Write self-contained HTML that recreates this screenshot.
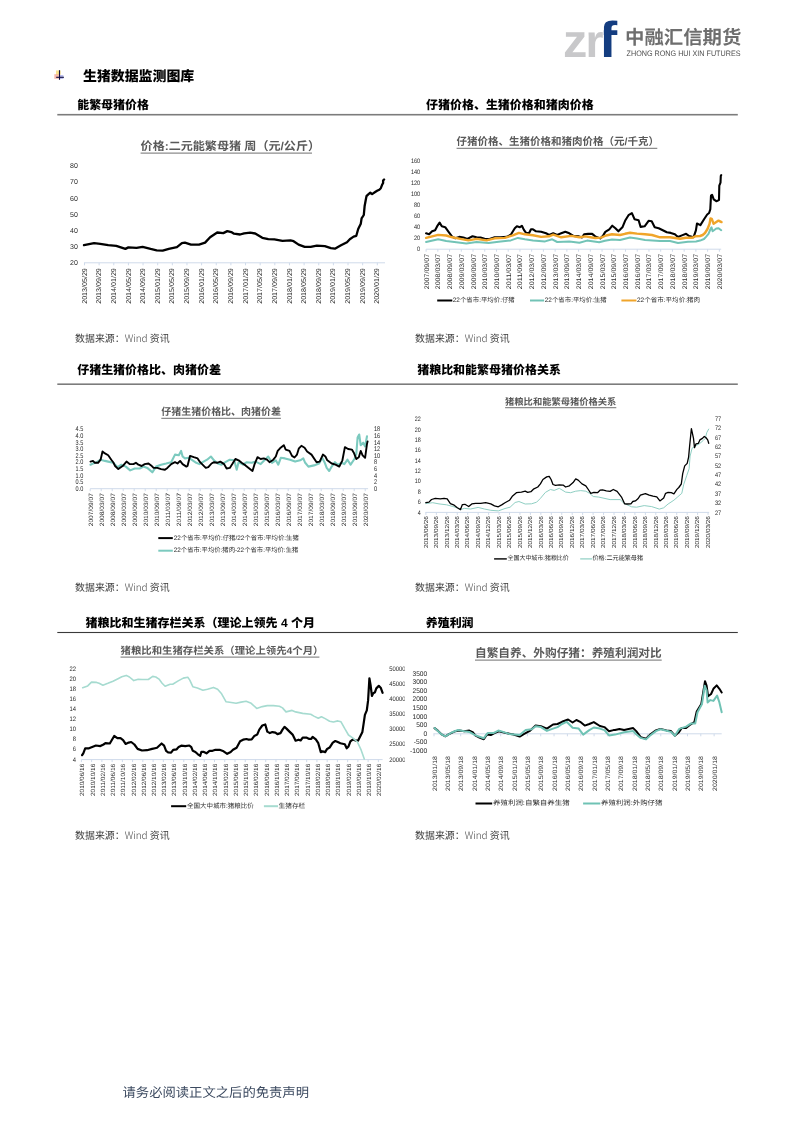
<!DOCTYPE html>
<html lang="zh-CN"><head><meta charset="utf-8"><title>生猪数据监测图库</title>
<style>
html,body{margin:0;padding:0;background:#fff;}
body{width:793px;height:1122px;overflow:hidden;position:relative;}
svg{position:absolute;left:0;top:0;display:block;}
text{dominant-baseline:central;text-rendering:geometricPrecision;}
.c{font-family:"Liberation Sans", "Noto Sans CJK SC", sans-serif;}
.l{font-family:"Liberation Sans", "Noto Sans CJK SC", sans-serif;}
.k{font-family:"Noto Sans CJK SC", "Liberation Sans", sans-serif;}
</style></head><body>
<svg width="793" height="1122" viewBox="0 0 793 1122">
<defs><clipPath id="clipf"><rect x="603.8" y="0" width="40" height="80"/></clipPath><clipPath id="clip5"><rect x="0" y="600" width="404.8" height="300"/></clipPath></defs>
<text x="562.95" y="56.7" font-size="47" font-weight="700" fill="#c8c8ca" class="l" style="dominant-baseline:alphabetic" textLength="24.3" lengthAdjust="spacingAndGlyphs">z</text>
<text x="585.45" y="56.7" font-size="46.4" font-weight="700" fill="#c8c8ca" class="l" style="dominant-baseline:alphabetic" textLength="18" lengthAdjust="spacingAndGlyphs">r</text>
<text x="598.6" y="56.6" font-size="50.5" font-weight="700" fill="#143d80" class="l" style="dominant-baseline:alphabetic" textLength="18.7" lengthAdjust="spacingAndGlyphs" clip-path="url(#clipf)">f</text>
<text x="625.00" y="38.00" font-size="19" fill="#6e6e6e" class="c" font-weight="700" textLength="116.30" lengthAdjust="spacingAndGlyphs">中融汇信期货</text>
<text x="626.60" y="53.70" font-size="7.9" fill="#4e4e4e" class="l" textLength="113.90" lengthAdjust="spacingAndGlyphs">ZHONG RONG HUI XIN FUTURES</text>
<rect x="56" y="70.5" width="4.6" height="4.2" fill="#f6d55c" opacity="0.7"/>
<rect x="54.3" y="74.2" width="4.5" height="4.6" fill="#ef8a7a" opacity="0.6"/>
<rect x="59.6" y="75" width="3.8" height="4" fill="#8a8ee0" opacity="0.55"/>
<line x1="59.5" y1="70.2" x2="59.5" y2="79.8" stroke="#101040" stroke-width="1.1"/>
<line x1="56.2" y1="77.3" x2="63.9" y2="77.3" stroke="#101040" stroke-width="1.1"/>
<text x="82.90" y="75.80" font-size="14" fill="#000" class="c" font-weight="900" textLength="111.40" lengthAdjust="spacingAndGlyphs">生猪数据监测图库</text>
<text x="77.20" y="105.00" font-size="12" fill="#000" class="c" font-weight="900" textLength="71.70" lengthAdjust="spacingAndGlyphs">能繁母猪价格</text>
<text x="426.00" y="105.00" font-size="12" fill="#000" class="c" font-weight="900" textLength="167.70" lengthAdjust="spacingAndGlyphs">仔猪价格、生猪价格和猪肉价格</text>
<rect x="57.3" y="113.9" width="680.5" height="1.6" fill="#7c7c7c"/>
<text x="77.20" y="369.90" font-size="12" fill="#000" class="c" font-weight="900" textLength="143.70" lengthAdjust="spacingAndGlyphs">仔猪生猪价格比、肉猪价差</text>
<text x="417.20" y="369.90" font-size="12" fill="#000" class="c" font-weight="900" textLength="143.70" lengthAdjust="spacingAndGlyphs">猪粮比和能繁母猪价格关系</text>
<rect x="57.3" y="383.4" width="680.5" height="1.6" fill="#7c7c7c"/>
<text x="85.50" y="622.90" font-size="12" fill="#000" class="c" font-weight="900" textLength="229.50" lengthAdjust="spacingAndGlyphs">猪粮比和生猪存栏关系（理论上领先 4 个月</text>
<text x="425.70" y="622.90" font-size="12" fill="#000" class="c" font-weight="900" textLength="47.90" lengthAdjust="spacingAndGlyphs">养殖利润</text>
<rect x="57.3" y="631.95" width="680.5" height="1.1" fill="#3a3a3a"/>
<text x="140.60" y="146.60" font-size="11.5" fill="#595959" class="c" font-weight="700" textLength="179.40" lengthAdjust="spacingAndGlyphs">价格:二元能繁母猪 周（元/公斤）</text>
<line x1="140.6" y1="153.2" x2="312" y2="153.2" stroke="#8c8c8c" stroke-width="1.2"/>
<text x="77.90" y="166.60" font-size="7" fill="#2a2a2a" class="l" text-anchor="end">80</text>
<text x="77.90" y="182.83" font-size="7" fill="#2a2a2a" class="l" text-anchor="end">70</text>
<text x="77.90" y="199.06" font-size="7" fill="#2a2a2a" class="l" text-anchor="end">60</text>
<text x="77.90" y="215.29" font-size="7" fill="#2a2a2a" class="l" text-anchor="end">50</text>
<text x="77.90" y="231.52" font-size="7" fill="#2a2a2a" class="l" text-anchor="end">40</text>
<text x="77.90" y="247.75" font-size="7" fill="#2a2a2a" class="l" text-anchor="end">30</text>
<text x="77.90" y="263.98" font-size="7" fill="#2a2a2a" class="l" text-anchor="end">20</text>
<line x1="84" y1="262.8" x2="385" y2="262.8" stroke="#cfdaea" stroke-width="1"/>
<line x1="84.50" y1="262.8" x2="84.50" y2="265.3" stroke="#cfdaea" stroke-width="1"/>
<line x1="99.14" y1="262.8" x2="99.14" y2="265.3" stroke="#cfdaea" stroke-width="1"/>
<line x1="113.78" y1="262.8" x2="113.78" y2="265.3" stroke="#cfdaea" stroke-width="1"/>
<line x1="128.42" y1="262.8" x2="128.42" y2="265.3" stroke="#cfdaea" stroke-width="1"/>
<line x1="143.06" y1="262.8" x2="143.06" y2="265.3" stroke="#cfdaea" stroke-width="1"/>
<line x1="157.70" y1="262.8" x2="157.70" y2="265.3" stroke="#cfdaea" stroke-width="1"/>
<line x1="172.34" y1="262.8" x2="172.34" y2="265.3" stroke="#cfdaea" stroke-width="1"/>
<line x1="186.98" y1="262.8" x2="186.98" y2="265.3" stroke="#cfdaea" stroke-width="1"/>
<line x1="201.62" y1="262.8" x2="201.62" y2="265.3" stroke="#cfdaea" stroke-width="1"/>
<line x1="216.26" y1="262.8" x2="216.26" y2="265.3" stroke="#cfdaea" stroke-width="1"/>
<line x1="230.90" y1="262.8" x2="230.90" y2="265.3" stroke="#cfdaea" stroke-width="1"/>
<line x1="245.54" y1="262.8" x2="245.54" y2="265.3" stroke="#cfdaea" stroke-width="1"/>
<line x1="260.18" y1="262.8" x2="260.18" y2="265.3" stroke="#cfdaea" stroke-width="1"/>
<line x1="274.82" y1="262.8" x2="274.82" y2="265.3" stroke="#cfdaea" stroke-width="1"/>
<line x1="289.46" y1="262.8" x2="289.46" y2="265.3" stroke="#cfdaea" stroke-width="1"/>
<line x1="304.10" y1="262.8" x2="304.10" y2="265.3" stroke="#cfdaea" stroke-width="1"/>
<line x1="318.74" y1="262.8" x2="318.74" y2="265.3" stroke="#cfdaea" stroke-width="1"/>
<line x1="333.38" y1="262.8" x2="333.38" y2="265.3" stroke="#cfdaea" stroke-width="1"/>
<line x1="348.02" y1="262.8" x2="348.02" y2="265.3" stroke="#cfdaea" stroke-width="1"/>
<line x1="362.66" y1="262.8" x2="362.66" y2="265.3" stroke="#cfdaea" stroke-width="1"/>
<line x1="377.30" y1="262.8" x2="377.30" y2="265.3" stroke="#cfdaea" stroke-width="1"/>
<text transform="translate(85.10,268.20) rotate(-90)" x="0" y="0" font-size="7" fill="#2a2a2a" class="l" text-anchor="end" textLength="35.6" lengthAdjust="spacingAndGlyphs">2013/05/29</text>
<text transform="translate(99.74,268.20) rotate(-90)" x="0" y="0" font-size="7" fill="#2a2a2a" class="l" text-anchor="end" textLength="35.6" lengthAdjust="spacingAndGlyphs">2013/09/29</text>
<text transform="translate(114.38,268.20) rotate(-90)" x="0" y="0" font-size="7" fill="#2a2a2a" class="l" text-anchor="end" textLength="35.6" lengthAdjust="spacingAndGlyphs">2014/01/29</text>
<text transform="translate(129.02,268.20) rotate(-90)" x="0" y="0" font-size="7" fill="#2a2a2a" class="l" text-anchor="end" textLength="35.6" lengthAdjust="spacingAndGlyphs">2014/05/29</text>
<text transform="translate(143.66,268.20) rotate(-90)" x="0" y="0" font-size="7" fill="#2a2a2a" class="l" text-anchor="end" textLength="35.6" lengthAdjust="spacingAndGlyphs">2014/09/29</text>
<text transform="translate(158.30,268.20) rotate(-90)" x="0" y="0" font-size="7" fill="#2a2a2a" class="l" text-anchor="end" textLength="35.6" lengthAdjust="spacingAndGlyphs">2015/01/29</text>
<text transform="translate(172.94,268.20) rotate(-90)" x="0" y="0" font-size="7" fill="#2a2a2a" class="l" text-anchor="end" textLength="35.6" lengthAdjust="spacingAndGlyphs">2015/05/29</text>
<text transform="translate(187.58,268.20) rotate(-90)" x="0" y="0" font-size="7" fill="#2a2a2a" class="l" text-anchor="end" textLength="35.6" lengthAdjust="spacingAndGlyphs">2015/09/29</text>
<text transform="translate(202.22,268.20) rotate(-90)" x="0" y="0" font-size="7" fill="#2a2a2a" class="l" text-anchor="end" textLength="35.6" lengthAdjust="spacingAndGlyphs">2016/01/29</text>
<text transform="translate(216.86,268.20) rotate(-90)" x="0" y="0" font-size="7" fill="#2a2a2a" class="l" text-anchor="end" textLength="35.6" lengthAdjust="spacingAndGlyphs">2016/05/29</text>
<text transform="translate(231.50,268.20) rotate(-90)" x="0" y="0" font-size="7" fill="#2a2a2a" class="l" text-anchor="end" textLength="35.6" lengthAdjust="spacingAndGlyphs">2016/09/29</text>
<text transform="translate(246.14,268.20) rotate(-90)" x="0" y="0" font-size="7" fill="#2a2a2a" class="l" text-anchor="end" textLength="35.6" lengthAdjust="spacingAndGlyphs">2017/01/29</text>
<text transform="translate(260.78,268.20) rotate(-90)" x="0" y="0" font-size="7" fill="#2a2a2a" class="l" text-anchor="end" textLength="35.6" lengthAdjust="spacingAndGlyphs">2017/05/29</text>
<text transform="translate(275.42,268.20) rotate(-90)" x="0" y="0" font-size="7" fill="#2a2a2a" class="l" text-anchor="end" textLength="35.6" lengthAdjust="spacingAndGlyphs">2017/09/29</text>
<text transform="translate(290.06,268.20) rotate(-90)" x="0" y="0" font-size="7" fill="#2a2a2a" class="l" text-anchor="end" textLength="35.6" lengthAdjust="spacingAndGlyphs">2018/01/29</text>
<text transform="translate(304.70,268.20) rotate(-90)" x="0" y="0" font-size="7" fill="#2a2a2a" class="l" text-anchor="end" textLength="35.6" lengthAdjust="spacingAndGlyphs">2018/05/29</text>
<text transform="translate(319.34,268.20) rotate(-90)" x="0" y="0" font-size="7" fill="#2a2a2a" class="l" text-anchor="end" textLength="35.6" lengthAdjust="spacingAndGlyphs">2018/09/29</text>
<text transform="translate(333.98,268.20) rotate(-90)" x="0" y="0" font-size="7" fill="#2a2a2a" class="l" text-anchor="end" textLength="35.6" lengthAdjust="spacingAndGlyphs">2019/01/29</text>
<text transform="translate(348.62,268.20) rotate(-90)" x="0" y="0" font-size="7" fill="#2a2a2a" class="l" text-anchor="end" textLength="35.6" lengthAdjust="spacingAndGlyphs">2019/05/29</text>
<text transform="translate(363.26,268.20) rotate(-90)" x="0" y="0" font-size="7" fill="#2a2a2a" class="l" text-anchor="end" textLength="35.6" lengthAdjust="spacingAndGlyphs">2019/09/29</text>
<text transform="translate(377.90,268.20) rotate(-90)" x="0" y="0" font-size="7" fill="#2a2a2a" class="l" text-anchor="end" textLength="35.6" lengthAdjust="spacingAndGlyphs">2020/01/29</text>
<polyline points="84.0,245.2 94.1,243.2 100.2,243.8 108.2,245.2 116.3,245.8 125.4,248.9 128.4,247.4 136.5,247.8 142.6,246.8 150.6,248.9 156.7,250.3 162.7,250.7 168.8,248.9 176.9,247.2 181.9,243.2 184.9,242.6 191.0,244.6 199.0,244.6 205.1,242.6 210.1,237.2 217.2,232.5 223.3,233.1 227.3,231.1 231.3,232.1 234.0,233.7 240.1,234.5 244.1,233.3 250.2,232.7 255.2,233.5 262.3,237.8 268.3,239.2 274.4,239.4 282.5,240.8 290.5,240.4 293.6,241.2 298.6,244.6 304.7,246.8 310.7,246.8 316.8,245.6 324.8,246.2 330.9,248.2 334.9,248.7 341.0,245.2 347.0,242.2 349.8,239.2 353.6,236.6 356.3,235.8 358.2,229.0 360.8,223.7 361.6,218.4 363.8,215.0 364.6,206.3 365.7,200.3 366.5,196.1 368.0,194.6 370.3,192.7 372.1,194.1 374.8,192.3 377.1,190.8 379.3,189.7 380.8,188.2 382.0,185.1 383.1,182.9 383.1,180.6 384.1,179.5" fill="none" stroke="#000" stroke-width="2.3" stroke-linejoin="round" stroke-linecap="round"/>
<text x="456.60" y="141.70" font-size="10.5" fill="#595959" class="c" font-weight="700" textLength="202.40" lengthAdjust="spacingAndGlyphs">仔猪价格、生猪价格和猪肉价格（元/千克）</text>
<line x1="456.6" y1="148.3" x2="657.3" y2="148.3" stroke="#8c8c8c" stroke-width="1.2"/>
<text x="420.20" y="161.70" font-size="6.4" fill="#2a2a2a" class="l" text-anchor="end" textLength="9.30" lengthAdjust="spacingAndGlyphs">160</text>
<text x="420.20" y="172.63" font-size="6.4" fill="#2a2a2a" class="l" text-anchor="end" textLength="9.30" lengthAdjust="spacingAndGlyphs">140</text>
<text x="420.20" y="183.56" font-size="6.4" fill="#2a2a2a" class="l" text-anchor="end" textLength="9.30" lengthAdjust="spacingAndGlyphs">120</text>
<text x="420.20" y="194.49" font-size="6.4" fill="#2a2a2a" class="l" text-anchor="end" textLength="9.30" lengthAdjust="spacingAndGlyphs">100</text>
<text x="420.20" y="205.42" font-size="6.4" fill="#2a2a2a" class="l" text-anchor="end" textLength="6.20" lengthAdjust="spacingAndGlyphs">80</text>
<text x="420.20" y="216.35" font-size="6.4" fill="#2a2a2a" class="l" text-anchor="end" textLength="6.20" lengthAdjust="spacingAndGlyphs">60</text>
<text x="420.20" y="227.28" font-size="6.4" fill="#2a2a2a" class="l" text-anchor="end" textLength="6.20" lengthAdjust="spacingAndGlyphs">40</text>
<text x="420.20" y="238.21" font-size="6.4" fill="#2a2a2a" class="l" text-anchor="end" textLength="6.20" lengthAdjust="spacingAndGlyphs">20</text>
<text x="420.20" y="249.14" font-size="6.4" fill="#2a2a2a" class="l" text-anchor="end" textLength="3.10" lengthAdjust="spacingAndGlyphs">0</text>
<line x1="426.2" y1="249.2" x2="721.2" y2="249.2" stroke="#cfdaea" stroke-width="1"/>
<line x1="426.10" y1="249.2" x2="426.10" y2="251.7" stroke="#cfdaea" stroke-width="1"/>
<line x1="437.83" y1="249.2" x2="437.83" y2="251.7" stroke="#cfdaea" stroke-width="1"/>
<line x1="449.56" y1="249.2" x2="449.56" y2="251.7" stroke="#cfdaea" stroke-width="1"/>
<line x1="461.29" y1="249.2" x2="461.29" y2="251.7" stroke="#cfdaea" stroke-width="1"/>
<line x1="473.02" y1="249.2" x2="473.02" y2="251.7" stroke="#cfdaea" stroke-width="1"/>
<line x1="484.75" y1="249.2" x2="484.75" y2="251.7" stroke="#cfdaea" stroke-width="1"/>
<line x1="496.48" y1="249.2" x2="496.48" y2="251.7" stroke="#cfdaea" stroke-width="1"/>
<line x1="508.21" y1="249.2" x2="508.21" y2="251.7" stroke="#cfdaea" stroke-width="1"/>
<line x1="519.94" y1="249.2" x2="519.94" y2="251.7" stroke="#cfdaea" stroke-width="1"/>
<line x1="531.67" y1="249.2" x2="531.67" y2="251.7" stroke="#cfdaea" stroke-width="1"/>
<line x1="543.40" y1="249.2" x2="543.40" y2="251.7" stroke="#cfdaea" stroke-width="1"/>
<line x1="555.13" y1="249.2" x2="555.13" y2="251.7" stroke="#cfdaea" stroke-width="1"/>
<line x1="566.86" y1="249.2" x2="566.86" y2="251.7" stroke="#cfdaea" stroke-width="1"/>
<line x1="578.59" y1="249.2" x2="578.59" y2="251.7" stroke="#cfdaea" stroke-width="1"/>
<line x1="590.32" y1="249.2" x2="590.32" y2="251.7" stroke="#cfdaea" stroke-width="1"/>
<line x1="602.05" y1="249.2" x2="602.05" y2="251.7" stroke="#cfdaea" stroke-width="1"/>
<line x1="613.78" y1="249.2" x2="613.78" y2="251.7" stroke="#cfdaea" stroke-width="1"/>
<line x1="625.51" y1="249.2" x2="625.51" y2="251.7" stroke="#cfdaea" stroke-width="1"/>
<line x1="637.24" y1="249.2" x2="637.24" y2="251.7" stroke="#cfdaea" stroke-width="1"/>
<line x1="648.97" y1="249.2" x2="648.97" y2="251.7" stroke="#cfdaea" stroke-width="1"/>
<line x1="660.70" y1="249.2" x2="660.70" y2="251.7" stroke="#cfdaea" stroke-width="1"/>
<line x1="672.43" y1="249.2" x2="672.43" y2="251.7" stroke="#cfdaea" stroke-width="1"/>
<line x1="684.16" y1="249.2" x2="684.16" y2="251.7" stroke="#cfdaea" stroke-width="1"/>
<line x1="695.89" y1="249.2" x2="695.89" y2="251.7" stroke="#cfdaea" stroke-width="1"/>
<line x1="707.62" y1="249.2" x2="707.62" y2="251.7" stroke="#cfdaea" stroke-width="1"/>
<line x1="719.35" y1="249.2" x2="719.35" y2="251.7" stroke="#cfdaea" stroke-width="1"/>
<text transform="translate(427.10,253.90) rotate(-90)" x="0" y="0" font-size="6.6" fill="#2a2a2a" class="l" text-anchor="end" textLength="35.4" lengthAdjust="spacingAndGlyphs">2007/09/07</text>
<text transform="translate(438.83,253.90) rotate(-90)" x="0" y="0" font-size="6.6" fill="#2a2a2a" class="l" text-anchor="end" textLength="35.4" lengthAdjust="spacingAndGlyphs">2008/03/07</text>
<text transform="translate(450.56,253.90) rotate(-90)" x="0" y="0" font-size="6.6" fill="#2a2a2a" class="l" text-anchor="end" textLength="35.4" lengthAdjust="spacingAndGlyphs">2008/09/07</text>
<text transform="translate(462.29,253.90) rotate(-90)" x="0" y="0" font-size="6.6" fill="#2a2a2a" class="l" text-anchor="end" textLength="35.4" lengthAdjust="spacingAndGlyphs">2009/03/07</text>
<text transform="translate(474.02,253.90) rotate(-90)" x="0" y="0" font-size="6.6" fill="#2a2a2a" class="l" text-anchor="end" textLength="35.4" lengthAdjust="spacingAndGlyphs">2009/09/07</text>
<text transform="translate(485.75,253.90) rotate(-90)" x="0" y="0" font-size="6.6" fill="#2a2a2a" class="l" text-anchor="end" textLength="35.4" lengthAdjust="spacingAndGlyphs">2010/03/07</text>
<text transform="translate(497.48,253.90) rotate(-90)" x="0" y="0" font-size="6.6" fill="#2a2a2a" class="l" text-anchor="end" textLength="35.4" lengthAdjust="spacingAndGlyphs">2010/09/07</text>
<text transform="translate(509.21,253.90) rotate(-90)" x="0" y="0" font-size="6.6" fill="#2a2a2a" class="l" text-anchor="end" textLength="35.4" lengthAdjust="spacingAndGlyphs">2011/03/07</text>
<text transform="translate(520.94,253.90) rotate(-90)" x="0" y="0" font-size="6.6" fill="#2a2a2a" class="l" text-anchor="end" textLength="35.4" lengthAdjust="spacingAndGlyphs">2011/09/07</text>
<text transform="translate(532.67,253.90) rotate(-90)" x="0" y="0" font-size="6.6" fill="#2a2a2a" class="l" text-anchor="end" textLength="35.4" lengthAdjust="spacingAndGlyphs">2012/03/07</text>
<text transform="translate(544.40,253.90) rotate(-90)" x="0" y="0" font-size="6.6" fill="#2a2a2a" class="l" text-anchor="end" textLength="35.4" lengthAdjust="spacingAndGlyphs">2012/09/07</text>
<text transform="translate(556.13,253.90) rotate(-90)" x="0" y="0" font-size="6.6" fill="#2a2a2a" class="l" text-anchor="end" textLength="35.4" lengthAdjust="spacingAndGlyphs">2013/03/07</text>
<text transform="translate(567.86,253.90) rotate(-90)" x="0" y="0" font-size="6.6" fill="#2a2a2a" class="l" text-anchor="end" textLength="35.4" lengthAdjust="spacingAndGlyphs">2013/09/07</text>
<text transform="translate(579.59,253.90) rotate(-90)" x="0" y="0" font-size="6.6" fill="#2a2a2a" class="l" text-anchor="end" textLength="35.4" lengthAdjust="spacingAndGlyphs">2014/03/07</text>
<text transform="translate(591.32,253.90) rotate(-90)" x="0" y="0" font-size="6.6" fill="#2a2a2a" class="l" text-anchor="end" textLength="35.4" lengthAdjust="spacingAndGlyphs">2014/09/07</text>
<text transform="translate(603.05,253.90) rotate(-90)" x="0" y="0" font-size="6.6" fill="#2a2a2a" class="l" text-anchor="end" textLength="35.4" lengthAdjust="spacingAndGlyphs">2015/03/07</text>
<text transform="translate(614.78,253.90) rotate(-90)" x="0" y="0" font-size="6.6" fill="#2a2a2a" class="l" text-anchor="end" textLength="35.4" lengthAdjust="spacingAndGlyphs">2015/09/07</text>
<text transform="translate(626.51,253.90) rotate(-90)" x="0" y="0" font-size="6.6" fill="#2a2a2a" class="l" text-anchor="end" textLength="35.4" lengthAdjust="spacingAndGlyphs">2016/03/07</text>
<text transform="translate(638.24,253.90) rotate(-90)" x="0" y="0" font-size="6.6" fill="#2a2a2a" class="l" text-anchor="end" textLength="35.4" lengthAdjust="spacingAndGlyphs">2016/09/07</text>
<text transform="translate(649.97,253.90) rotate(-90)" x="0" y="0" font-size="6.6" fill="#2a2a2a" class="l" text-anchor="end" textLength="35.4" lengthAdjust="spacingAndGlyphs">2017/03/07</text>
<text transform="translate(661.70,253.90) rotate(-90)" x="0" y="0" font-size="6.6" fill="#2a2a2a" class="l" text-anchor="end" textLength="35.4" lengthAdjust="spacingAndGlyphs">2017/09/07</text>
<text transform="translate(673.43,253.90) rotate(-90)" x="0" y="0" font-size="6.6" fill="#2a2a2a" class="l" text-anchor="end" textLength="35.4" lengthAdjust="spacingAndGlyphs">2018/03/07</text>
<text transform="translate(685.16,253.90) rotate(-90)" x="0" y="0" font-size="6.6" fill="#2a2a2a" class="l" text-anchor="end" textLength="35.4" lengthAdjust="spacingAndGlyphs">2018/09/07</text>
<text transform="translate(696.89,253.90) rotate(-90)" x="0" y="0" font-size="6.6" fill="#2a2a2a" class="l" text-anchor="end" textLength="35.4" lengthAdjust="spacingAndGlyphs">2019/03/07</text>
<text transform="translate(708.62,253.90) rotate(-90)" x="0" y="0" font-size="6.6" fill="#2a2a2a" class="l" text-anchor="end" textLength="35.4" lengthAdjust="spacingAndGlyphs">2019/09/07</text>
<text transform="translate(720.35,253.90) rotate(-90)" x="0" y="0" font-size="6.6" fill="#2a2a2a" class="l" text-anchor="end" textLength="35.4" lengthAdjust="spacingAndGlyphs">2020/03/07</text>
<polyline points="426.1,233.3 429.1,234.3 432.1,231.3 435.1,230.3 437.2,226.2 439.6,222.6 441.8,226.2 445.2,227.2 448.2,231.3 452.3,236.9 455.3,238.3 459.3,236.9 463.4,237.5 467.4,238.9 472.5,236.3 476.5,237.3 480.5,237.5 484.6,238.7 489.6,239.1 494.7,237.3 500.7,237.3 506.8,236.9 510.8,234.7 514.8,228.2 516.9,226.2 519.9,227.2 521.9,225.8 523.9,229.9 525.9,232.7 529.0,233.3 531.0,229.3 533.0,229.3 536.0,231.3 541.1,231.7 546.1,233.3 549.1,234.9 553.2,233.3 557.2,234.9 561.2,233.3 565.3,231.7 569.3,233.3 573.4,235.9 579.0,236.4 582.1,237.4 584.1,234.3 588.1,233.9 592.2,233.9 595.2,236.4 600.2,238.4 603.2,235.4 605.3,231.9 609.3,229.3 612.3,225.7 615.4,228.3 618.4,231.3 622.4,227.3 625.4,220.2 628.5,215.2 631.9,213.2 634.5,219.2 638.6,220.2 640.6,226.9 644.6,226.3 648.6,220.8 651.7,221.2 654.7,227.3 658.7,228.3 662.8,230.3 666.8,232.3 670.8,232.9 674.9,234.3 677.9,237.0 681.9,235.4 686.1,233.8 689.1,236.0 693.6,237.2 695.9,230.3 697.0,223.5 700.4,225.1 704.2,219.0 707.2,214.5 709.1,213.0 710.3,209.2 711.0,195.6 712.1,194.8 713.7,199.3 716.3,201.2 719.0,200.1 719.3,185.7 720.5,182.7 720.8,175.9 721.2,175.1" fill="none" stroke="#000" stroke-width="2.1" stroke-linejoin="round" stroke-linecap="round"/>
<polyline points="426.1,242.0 438.2,239.3 446.2,241.0 454.3,242.0 466.4,243.4 476.5,242.0 488.6,243.0 500.7,241.4 510.8,240.4 517.9,237.9 524.9,239.3 533.0,240.4 545.1,241.4 552.2,239.3 557.2,242.0 569.3,241.4 579.4,242.8 587.1,240.6 599.2,242.3 605.0,240.8 612.0,239.5 620.0,240.0 630.0,237.5 637.0,238.5 645.0,240.0 660.0,240.9 670.0,241.0 678.0,243.0 688.0,241.8 696.0,241.4 700.1,240.6 704.0,239.0 706.0,236.8 708.5,233.8 710.5,229.0 711.5,227.3 712.6,231.3 716.3,228.5 718.6,228.3 721.2,230.2" fill="none" stroke="#72c3b6" stroke-width="2.0" stroke-linejoin="round" stroke-linecap="round"/>
<polyline points="426.1,237.9 432.1,236.3 438.2,234.9 446.2,235.5 452.3,237.3 460.4,238.9 468.4,240.4 476.5,238.9 486.6,240.4 494.7,238.3 504.7,237.9 512.8,235.3 518.9,232.9 524.9,234.3 533.0,235.3 541.1,236.9 549.1,236.3 553.2,234.7 561.2,237.3 571.3,235.9 579.4,237.3 585.1,236.4 595.2,238.0 601.2,237.6 606.0,235.5 612.0,234.3 620.0,235.0 625.0,233.8 630.0,232.8 637.0,233.6 645.0,234.2 652.0,235.0 660.0,237.3 670.0,237.3 680.0,238.8 686.0,237.8 692.0,237.8 695.1,236.4 700.0,236.0 702.7,235.0 705.0,233.0 707.5,229.0 709.5,224.0 710.5,218.4 711.8,218.8 713.6,223.8 716.3,222.0 718.5,220.6 721.5,222.1" fill="none" stroke="#f0a52a" stroke-width="2.4" stroke-linejoin="round" stroke-linecap="round"/>
<line x1="437.2" y1="300.5" x2="452.3" y2="300.5" stroke="#000" stroke-width="2"/>
<text x="452.80" y="300.50" font-size="6.4" fill="#2a2a2a" class="c" textLength="62.00" lengthAdjust="spacingAndGlyphs">22个省市:平均价:仔猪</text>
<line x1="530" y1="300.5" x2="544.1" y2="300.5" stroke="#72c3b6" stroke-width="2"/>
<text x="544.80" y="300.50" font-size="6.4" fill="#2a2a2a" class="c" textLength="62.00" lengthAdjust="spacingAndGlyphs">22个省市:平均价:生猪</text>
<line x1="621.4" y1="300.5" x2="636.5" y2="300.5" stroke="#f0a52a" stroke-width="2"/>
<text x="637.00" y="300.50" font-size="6.4" fill="#2a2a2a" class="c" textLength="63.00" lengthAdjust="spacingAndGlyphs">22个省市:平均价:猪肉</text>
<text x="161.30" y="412.70" font-size="10" fill="#595959" class="c" font-weight="700" textLength="119.60" lengthAdjust="spacingAndGlyphs">仔猪生猪价格比、肉猪价差</text>
<line x1="161.3" y1="418.3" x2="280.9" y2="418.3" stroke="#8c8c8c" stroke-width="1.2"/>
<text x="83.30" y="429.80" font-size="6.8" fill="#2a2a2a" class="l" text-anchor="end" textLength="7.68" lengthAdjust="spacingAndGlyphs">4.5</text>
<text x="373.90" y="429.80" font-size="6.8" fill="#2a2a2a" class="l" textLength="6.20" lengthAdjust="spacingAndGlyphs">18</text>
<text x="83.30" y="436.42" font-size="6.8" fill="#2a2a2a" class="l" text-anchor="end" textLength="7.68" lengthAdjust="spacingAndGlyphs">4.0</text>
<text x="373.90" y="436.42" font-size="6.8" fill="#2a2a2a" class="l" textLength="6.20" lengthAdjust="spacingAndGlyphs">16</text>
<text x="83.30" y="443.04" font-size="6.8" fill="#2a2a2a" class="l" text-anchor="end" textLength="7.68" lengthAdjust="spacingAndGlyphs">3.5</text>
<text x="373.90" y="443.04" font-size="6.8" fill="#2a2a2a" class="l" textLength="6.20" lengthAdjust="spacingAndGlyphs">14</text>
<text x="83.30" y="449.66" font-size="6.8" fill="#2a2a2a" class="l" text-anchor="end" textLength="7.68" lengthAdjust="spacingAndGlyphs">3.0</text>
<text x="373.90" y="449.66" font-size="6.8" fill="#2a2a2a" class="l" textLength="6.20" lengthAdjust="spacingAndGlyphs">12</text>
<text x="83.30" y="456.28" font-size="6.8" fill="#2a2a2a" class="l" text-anchor="end" textLength="7.68" lengthAdjust="spacingAndGlyphs">2.5</text>
<text x="373.90" y="456.28" font-size="6.8" fill="#2a2a2a" class="l" textLength="6.20" lengthAdjust="spacingAndGlyphs">10</text>
<text x="83.30" y="462.90" font-size="6.8" fill="#2a2a2a" class="l" text-anchor="end" textLength="7.68" lengthAdjust="spacingAndGlyphs">2.0</text>
<text x="373.90" y="462.90" font-size="6.8" fill="#2a2a2a" class="l" textLength="3.10" lengthAdjust="spacingAndGlyphs">8</text>
<text x="83.30" y="469.52" font-size="6.8" fill="#2a2a2a" class="l" text-anchor="end" textLength="7.68" lengthAdjust="spacingAndGlyphs">1.5</text>
<text x="373.90" y="469.52" font-size="6.8" fill="#2a2a2a" class="l" textLength="3.10" lengthAdjust="spacingAndGlyphs">6</text>
<text x="83.30" y="476.14" font-size="6.8" fill="#2a2a2a" class="l" text-anchor="end" textLength="7.68" lengthAdjust="spacingAndGlyphs">1.0</text>
<text x="373.90" y="476.14" font-size="6.8" fill="#2a2a2a" class="l" textLength="3.10" lengthAdjust="spacingAndGlyphs">4</text>
<text x="83.30" y="482.76" font-size="6.8" fill="#2a2a2a" class="l" text-anchor="end" textLength="7.68" lengthAdjust="spacingAndGlyphs">0.5</text>
<text x="373.90" y="482.76" font-size="6.8" fill="#2a2a2a" class="l" textLength="3.10" lengthAdjust="spacingAndGlyphs">2</text>
<text x="83.30" y="489.38" font-size="6.8" fill="#2a2a2a" class="l" text-anchor="end" textLength="7.68" lengthAdjust="spacingAndGlyphs">0.0</text>
<text x="373.90" y="489.38" font-size="6.8" fill="#2a2a2a" class="l" textLength="3.10" lengthAdjust="spacingAndGlyphs">0</text>
<line x1="90.2" y1="488.7" x2="368.1" y2="488.7" stroke="#cfdaea" stroke-width="1"/>
<line x1="90.20" y1="488.7" x2="90.20" y2="491.2" stroke="#cfdaea" stroke-width="1"/>
<line x1="101.20" y1="488.7" x2="101.20" y2="491.2" stroke="#cfdaea" stroke-width="1"/>
<line x1="112.20" y1="488.7" x2="112.20" y2="491.2" stroke="#cfdaea" stroke-width="1"/>
<line x1="123.20" y1="488.7" x2="123.20" y2="491.2" stroke="#cfdaea" stroke-width="1"/>
<line x1="134.20" y1="488.7" x2="134.20" y2="491.2" stroke="#cfdaea" stroke-width="1"/>
<line x1="145.20" y1="488.7" x2="145.20" y2="491.2" stroke="#cfdaea" stroke-width="1"/>
<line x1="156.20" y1="488.7" x2="156.20" y2="491.2" stroke="#cfdaea" stroke-width="1"/>
<line x1="167.20" y1="488.7" x2="167.20" y2="491.2" stroke="#cfdaea" stroke-width="1"/>
<line x1="178.20" y1="488.7" x2="178.20" y2="491.2" stroke="#cfdaea" stroke-width="1"/>
<line x1="189.20" y1="488.7" x2="189.20" y2="491.2" stroke="#cfdaea" stroke-width="1"/>
<line x1="200.20" y1="488.7" x2="200.20" y2="491.2" stroke="#cfdaea" stroke-width="1"/>
<line x1="211.20" y1="488.7" x2="211.20" y2="491.2" stroke="#cfdaea" stroke-width="1"/>
<line x1="222.20" y1="488.7" x2="222.20" y2="491.2" stroke="#cfdaea" stroke-width="1"/>
<line x1="233.20" y1="488.7" x2="233.20" y2="491.2" stroke="#cfdaea" stroke-width="1"/>
<line x1="244.20" y1="488.7" x2="244.20" y2="491.2" stroke="#cfdaea" stroke-width="1"/>
<line x1="255.20" y1="488.7" x2="255.20" y2="491.2" stroke="#cfdaea" stroke-width="1"/>
<line x1="266.20" y1="488.7" x2="266.20" y2="491.2" stroke="#cfdaea" stroke-width="1"/>
<line x1="277.20" y1="488.7" x2="277.20" y2="491.2" stroke="#cfdaea" stroke-width="1"/>
<line x1="288.20" y1="488.7" x2="288.20" y2="491.2" stroke="#cfdaea" stroke-width="1"/>
<line x1="299.20" y1="488.7" x2="299.20" y2="491.2" stroke="#cfdaea" stroke-width="1"/>
<line x1="310.20" y1="488.7" x2="310.20" y2="491.2" stroke="#cfdaea" stroke-width="1"/>
<line x1="321.20" y1="488.7" x2="321.20" y2="491.2" stroke="#cfdaea" stroke-width="1"/>
<line x1="332.20" y1="488.7" x2="332.20" y2="491.2" stroke="#cfdaea" stroke-width="1"/>
<line x1="343.20" y1="488.7" x2="343.20" y2="491.2" stroke="#cfdaea" stroke-width="1"/>
<line x1="354.20" y1="488.7" x2="354.20" y2="491.2" stroke="#cfdaea" stroke-width="1"/>
<line x1="365.20" y1="488.7" x2="365.20" y2="491.2" stroke="#cfdaea" stroke-width="1"/>
<text transform="translate(91.00,493.10) rotate(-90)" x="0" y="0" font-size="6.2" fill="#2a2a2a" class="l" text-anchor="end" textLength="33.2" lengthAdjust="spacingAndGlyphs">2007/09/07</text>
<text transform="translate(102.00,493.10) rotate(-90)" x="0" y="0" font-size="6.2" fill="#2a2a2a" class="l" text-anchor="end" textLength="33.2" lengthAdjust="spacingAndGlyphs">2008/03/07</text>
<text transform="translate(113.00,493.10) rotate(-90)" x="0" y="0" font-size="6.2" fill="#2a2a2a" class="l" text-anchor="end" textLength="33.2" lengthAdjust="spacingAndGlyphs">2008/09/07</text>
<text transform="translate(124.00,493.10) rotate(-90)" x="0" y="0" font-size="6.2" fill="#2a2a2a" class="l" text-anchor="end" textLength="33.2" lengthAdjust="spacingAndGlyphs">2009/03/07</text>
<text transform="translate(135.00,493.10) rotate(-90)" x="0" y="0" font-size="6.2" fill="#2a2a2a" class="l" text-anchor="end" textLength="33.2" lengthAdjust="spacingAndGlyphs">2009/09/07</text>
<text transform="translate(146.00,493.10) rotate(-90)" x="0" y="0" font-size="6.2" fill="#2a2a2a" class="l" text-anchor="end" textLength="33.2" lengthAdjust="spacingAndGlyphs">2010/03/07</text>
<text transform="translate(157.00,493.10) rotate(-90)" x="0" y="0" font-size="6.2" fill="#2a2a2a" class="l" text-anchor="end" textLength="33.2" lengthAdjust="spacingAndGlyphs">2010/09/07</text>
<text transform="translate(168.00,493.10) rotate(-90)" x="0" y="0" font-size="6.2" fill="#2a2a2a" class="l" text-anchor="end" textLength="33.2" lengthAdjust="spacingAndGlyphs">2011/03/07</text>
<text transform="translate(179.00,493.10) rotate(-90)" x="0" y="0" font-size="6.2" fill="#2a2a2a" class="l" text-anchor="end" textLength="33.2" lengthAdjust="spacingAndGlyphs">2011/09/07</text>
<text transform="translate(190.00,493.10) rotate(-90)" x="0" y="0" font-size="6.2" fill="#2a2a2a" class="l" text-anchor="end" textLength="33.2" lengthAdjust="spacingAndGlyphs">2012/03/07</text>
<text transform="translate(201.00,493.10) rotate(-90)" x="0" y="0" font-size="6.2" fill="#2a2a2a" class="l" text-anchor="end" textLength="33.2" lengthAdjust="spacingAndGlyphs">2012/09/07</text>
<text transform="translate(212.00,493.10) rotate(-90)" x="0" y="0" font-size="6.2" fill="#2a2a2a" class="l" text-anchor="end" textLength="33.2" lengthAdjust="spacingAndGlyphs">2013/03/07</text>
<text transform="translate(223.00,493.10) rotate(-90)" x="0" y="0" font-size="6.2" fill="#2a2a2a" class="l" text-anchor="end" textLength="33.2" lengthAdjust="spacingAndGlyphs">2013/09/07</text>
<text transform="translate(234.00,493.10) rotate(-90)" x="0" y="0" font-size="6.2" fill="#2a2a2a" class="l" text-anchor="end" textLength="33.2" lengthAdjust="spacingAndGlyphs">2014/03/07</text>
<text transform="translate(245.00,493.10) rotate(-90)" x="0" y="0" font-size="6.2" fill="#2a2a2a" class="l" text-anchor="end" textLength="33.2" lengthAdjust="spacingAndGlyphs">2014/09/07</text>
<text transform="translate(256.00,493.10) rotate(-90)" x="0" y="0" font-size="6.2" fill="#2a2a2a" class="l" text-anchor="end" textLength="33.2" lengthAdjust="spacingAndGlyphs">2015/03/07</text>
<text transform="translate(267.00,493.10) rotate(-90)" x="0" y="0" font-size="6.2" fill="#2a2a2a" class="l" text-anchor="end" textLength="33.2" lengthAdjust="spacingAndGlyphs">2015/09/07</text>
<text transform="translate(278.00,493.10) rotate(-90)" x="0" y="0" font-size="6.2" fill="#2a2a2a" class="l" text-anchor="end" textLength="33.2" lengthAdjust="spacingAndGlyphs">2016/03/07</text>
<text transform="translate(289.00,493.10) rotate(-90)" x="0" y="0" font-size="6.2" fill="#2a2a2a" class="l" text-anchor="end" textLength="33.2" lengthAdjust="spacingAndGlyphs">2016/09/07</text>
<text transform="translate(300.00,493.10) rotate(-90)" x="0" y="0" font-size="6.2" fill="#2a2a2a" class="l" text-anchor="end" textLength="33.2" lengthAdjust="spacingAndGlyphs">2017/03/07</text>
<text transform="translate(311.00,493.10) rotate(-90)" x="0" y="0" font-size="6.2" fill="#2a2a2a" class="l" text-anchor="end" textLength="33.2" lengthAdjust="spacingAndGlyphs">2017/09/07</text>
<text transform="translate(322.00,493.10) rotate(-90)" x="0" y="0" font-size="6.2" fill="#2a2a2a" class="l" text-anchor="end" textLength="33.2" lengthAdjust="spacingAndGlyphs">2018/03/07</text>
<text transform="translate(333.00,493.10) rotate(-90)" x="0" y="0" font-size="6.2" fill="#2a2a2a" class="l" text-anchor="end" textLength="33.2" lengthAdjust="spacingAndGlyphs">2018/09/07</text>
<text transform="translate(344.00,493.10) rotate(-90)" x="0" y="0" font-size="6.2" fill="#2a2a2a" class="l" text-anchor="end" textLength="33.2" lengthAdjust="spacingAndGlyphs">2019/03/07</text>
<text transform="translate(355.00,493.10) rotate(-90)" x="0" y="0" font-size="6.2" fill="#2a2a2a" class="l" text-anchor="end" textLength="33.2" lengthAdjust="spacingAndGlyphs">2019/09/07</text>
<text transform="translate(366.00,493.10) rotate(-90)" x="0" y="0" font-size="6.2" fill="#2a2a2a" class="l" text-anchor="end" textLength="33.2" lengthAdjust="spacingAndGlyphs">2020/03/07</text>
<polyline points="90.5,464.7 93.0,463.5 96.8,462.2 100.6,459.7 105.0,460.9 108.2,461.6 113.2,462.8 117.6,467.2 121.4,464.7 125.8,466.6 130.2,470.4 134.7,468.5 139.7,468.5 143.5,466.6 147.3,467.9 152.3,472.3 156.1,466.6 161.1,464.7 166.2,463.5 171.2,462.2 175.0,454.6 178.8,455.3 181.1,450.9 182.6,456.5 185.0,458.4 188.8,457.8 192.6,460.3 196.3,462.8 199.5,464.1 202.7,462.2 207.1,459.7 210.9,456.5 214.0,460.3 217.8,463.5 221.6,464.7 225.4,462.2 229.8,459.7 234.2,460.3 236.7,469.8 238.6,462.2 243.0,464.7 246.8,462.2 251.8,462.8 255.6,461.6 260.7,464.1 264.4,460.3 268.2,456.5 272.0,462.8 275.8,460.3 278.3,464.7 280.8,457.8 285.0,458.4 290.1,459.7 295.1,461.6 300.2,460.3 303.3,458.4 305.2,462.8 308.4,466.6 314.0,465.4 319.1,463.5 322.2,457.8 324.8,462.8 326.7,467.9 329.2,471.0 331.7,466.6 334.9,462.2 338.0,464.7 341.8,462.8 344.3,464.1 347.5,459.7 350.6,464.7 354.4,459.0 356.3,454.0 357.6,437.6 359.2,434.5 360.7,445.2 363.2,442.7 365.1,446.4 367.0,436.3" fill="none" stroke="#7ccabf" stroke-width="2.1" stroke-linejoin="round" stroke-linecap="round"/>
<polyline points="90.5,461.6 93.0,460.9 94.9,462.8 98.1,462.8 100.6,459.7 102.5,451.5 105.0,453.4 108.2,455.3 111.3,459.7 113.2,462.2 115.1,466.0 118.3,469.1 120.8,467.2 123.3,465.4 126.5,461.6 129.6,464.1 133.4,464.1 135.9,462.8 138.4,464.7 141.6,466.0 144.7,464.1 148.5,463.5 151.1,465.4 153.6,467.9 157.4,467.9 161.1,469.1 164.9,469.8 167.4,467.9 171.2,464.1 175.0,462.2 177.5,463.5 180.1,460.9 182.6,464.1 186.4,466.6 187.5,466.0 190.0,455.9 193.8,457.2 197.6,458.4 200.1,462.2 203.3,465.4 205.8,467.9 208.3,467.2 211.5,463.5 214.0,462.2 217.2,462.8 220.3,461.6 224.1,464.1 226.6,468.5 229.8,467.9 232.3,464.1 235.4,459.0 238.6,460.3 241.7,462.8 245.5,465.4 249.3,468.5 252.5,471.0 254.4,464.7 257.5,457.2 260.7,459.0 263.8,458.4 267.0,459.7 269.5,462.2 273.3,459.7 275.8,456.5 277.7,450.9 280.0,448.3 283.8,445.2 285.7,449.6 289.5,450.9 292.0,455.9 294.5,457.5 297.0,454.6 298.9,448.3 301.4,445.8 304.6,447.7 307.1,451.5 311.5,454.6 316.6,462.2 319.7,461.6 322.9,454.6 325.4,456.5 327.3,460.3 331.7,463.5 335.5,464.7 339.3,466.6 342.4,460.3 344.9,447.1 348.1,449.0 351.9,449.6 353.8,452.7 356.3,459.0 358.8,457.2 360.7,450.9 362.6,455.3 365.1,457.8 367.0,443.9 367.6,441.4" fill="none" stroke="#000" stroke-width="1.9" stroke-linejoin="round" stroke-linecap="round"/>
<line x1="158.3" y1="538.1" x2="172.8" y2="538.1" stroke="#000" stroke-width="2"/>
<text x="173.80" y="538.10" font-size="6.4" fill="#2a2a2a" class="c" textLength="125.00" lengthAdjust="spacingAndGlyphs">22个省市:平均价:仔猪/22个省市:平均价:生猪</text>
<line x1="158.3" y1="550.7" x2="172.8" y2="550.7" stroke="#7ccabf" stroke-width="2"/>
<text x="173.80" y="550.70" font-size="6.4" fill="#2a2a2a" class="c" textLength="124.50" lengthAdjust="spacingAndGlyphs">22个省市:平均价:猪肉-22个省市:平均价:生猪</text>
<text x="505.10" y="401.90" font-size="9.3" fill="#595959" class="c" font-weight="700" textLength="111.20" lengthAdjust="spacingAndGlyphs">猪粮比和能繁母猪价格关系</text>
<line x1="505.1" y1="407.6" x2="616.3" y2="407.6" stroke="#8c8c8c" stroke-width="1.2"/>
<text x="420.70" y="419.70" font-size="6.4" fill="#2a2a2a" class="l" text-anchor="end" textLength="6.00" lengthAdjust="spacingAndGlyphs">22</text>
<text x="420.70" y="430.07" font-size="6.4" fill="#2a2a2a" class="l" text-anchor="end" textLength="6.00" lengthAdjust="spacingAndGlyphs">20</text>
<text x="420.70" y="440.44" font-size="6.4" fill="#2a2a2a" class="l" text-anchor="end" textLength="6.00" lengthAdjust="spacingAndGlyphs">18</text>
<text x="420.70" y="450.81" font-size="6.4" fill="#2a2a2a" class="l" text-anchor="end" textLength="6.00" lengthAdjust="spacingAndGlyphs">16</text>
<text x="420.70" y="461.18" font-size="6.4" fill="#2a2a2a" class="l" text-anchor="end" textLength="6.00" lengthAdjust="spacingAndGlyphs">14</text>
<text x="420.70" y="471.55" font-size="6.4" fill="#2a2a2a" class="l" text-anchor="end" textLength="6.00" lengthAdjust="spacingAndGlyphs">12</text>
<text x="420.70" y="481.92" font-size="6.4" fill="#2a2a2a" class="l" text-anchor="end" textLength="6.00" lengthAdjust="spacingAndGlyphs">10</text>
<text x="420.70" y="492.29" font-size="6.4" fill="#2a2a2a" class="l" text-anchor="end" textLength="3.00" lengthAdjust="spacingAndGlyphs">8</text>
<text x="420.70" y="502.66" font-size="6.4" fill="#2a2a2a" class="l" text-anchor="end" textLength="3.00" lengthAdjust="spacingAndGlyphs">6</text>
<text x="420.70" y="513.03" font-size="6.4" fill="#2a2a2a" class="l" text-anchor="end" textLength="3.00" lengthAdjust="spacingAndGlyphs">4</text>
<text x="715.00" y="419.30" font-size="6.4" fill="#2a2a2a" class="l" textLength="6.20" lengthAdjust="spacingAndGlyphs">77</text>
<text x="715.00" y="428.67" font-size="6.4" fill="#2a2a2a" class="l" textLength="6.20" lengthAdjust="spacingAndGlyphs">72</text>
<text x="715.00" y="438.04" font-size="6.4" fill="#2a2a2a" class="l" textLength="6.20" lengthAdjust="spacingAndGlyphs">67</text>
<text x="715.00" y="447.41" font-size="6.4" fill="#2a2a2a" class="l" textLength="6.20" lengthAdjust="spacingAndGlyphs">62</text>
<text x="715.00" y="456.78" font-size="6.4" fill="#2a2a2a" class="l" textLength="6.20" lengthAdjust="spacingAndGlyphs">57</text>
<text x="715.00" y="466.15" font-size="6.4" fill="#2a2a2a" class="l" textLength="6.20" lengthAdjust="spacingAndGlyphs">52</text>
<text x="715.00" y="475.52" font-size="6.4" fill="#2a2a2a" class="l" textLength="6.20" lengthAdjust="spacingAndGlyphs">47</text>
<text x="715.00" y="484.89" font-size="6.4" fill="#2a2a2a" class="l" textLength="6.20" lengthAdjust="spacingAndGlyphs">42</text>
<text x="715.00" y="494.26" font-size="6.4" fill="#2a2a2a" class="l" textLength="6.20" lengthAdjust="spacingAndGlyphs">37</text>
<text x="715.00" y="503.63" font-size="6.4" fill="#2a2a2a" class="l" textLength="6.20" lengthAdjust="spacingAndGlyphs">32</text>
<text x="715.00" y="513.00" font-size="6.4" fill="#2a2a2a" class="l" textLength="6.20" lengthAdjust="spacingAndGlyphs">27</text>
<line x1="425.4" y1="512.4" x2="709.2" y2="512.4" stroke="#cfdaea" stroke-width="1"/>
<line x1="425.90" y1="512.4" x2="425.90" y2="514.9" stroke="#cfdaea" stroke-width="1"/>
<line x1="436.35" y1="512.4" x2="436.35" y2="514.9" stroke="#cfdaea" stroke-width="1"/>
<line x1="446.80" y1="512.4" x2="446.80" y2="514.9" stroke="#cfdaea" stroke-width="1"/>
<line x1="457.25" y1="512.4" x2="457.25" y2="514.9" stroke="#cfdaea" stroke-width="1"/>
<line x1="467.70" y1="512.4" x2="467.70" y2="514.9" stroke="#cfdaea" stroke-width="1"/>
<line x1="478.15" y1="512.4" x2="478.15" y2="514.9" stroke="#cfdaea" stroke-width="1"/>
<line x1="488.60" y1="512.4" x2="488.60" y2="514.9" stroke="#cfdaea" stroke-width="1"/>
<line x1="499.05" y1="512.4" x2="499.05" y2="514.9" stroke="#cfdaea" stroke-width="1"/>
<line x1="509.50" y1="512.4" x2="509.50" y2="514.9" stroke="#cfdaea" stroke-width="1"/>
<line x1="519.95" y1="512.4" x2="519.95" y2="514.9" stroke="#cfdaea" stroke-width="1"/>
<line x1="530.40" y1="512.4" x2="530.40" y2="514.9" stroke="#cfdaea" stroke-width="1"/>
<line x1="540.85" y1="512.4" x2="540.85" y2="514.9" stroke="#cfdaea" stroke-width="1"/>
<line x1="551.30" y1="512.4" x2="551.30" y2="514.9" stroke="#cfdaea" stroke-width="1"/>
<line x1="561.75" y1="512.4" x2="561.75" y2="514.9" stroke="#cfdaea" stroke-width="1"/>
<line x1="572.20" y1="512.4" x2="572.20" y2="514.9" stroke="#cfdaea" stroke-width="1"/>
<line x1="582.65" y1="512.4" x2="582.65" y2="514.9" stroke="#cfdaea" stroke-width="1"/>
<line x1="593.10" y1="512.4" x2="593.10" y2="514.9" stroke="#cfdaea" stroke-width="1"/>
<line x1="603.55" y1="512.4" x2="603.55" y2="514.9" stroke="#cfdaea" stroke-width="1"/>
<line x1="614.00" y1="512.4" x2="614.00" y2="514.9" stroke="#cfdaea" stroke-width="1"/>
<line x1="624.45" y1="512.4" x2="624.45" y2="514.9" stroke="#cfdaea" stroke-width="1"/>
<line x1="634.90" y1="512.4" x2="634.90" y2="514.9" stroke="#cfdaea" stroke-width="1"/>
<line x1="645.35" y1="512.4" x2="645.35" y2="514.9" stroke="#cfdaea" stroke-width="1"/>
<line x1="655.80" y1="512.4" x2="655.80" y2="514.9" stroke="#cfdaea" stroke-width="1"/>
<line x1="666.25" y1="512.4" x2="666.25" y2="514.9" stroke="#cfdaea" stroke-width="1"/>
<line x1="676.70" y1="512.4" x2="676.70" y2="514.9" stroke="#cfdaea" stroke-width="1"/>
<line x1="687.15" y1="512.4" x2="687.15" y2="514.9" stroke="#cfdaea" stroke-width="1"/>
<line x1="697.60" y1="512.4" x2="697.60" y2="514.9" stroke="#cfdaea" stroke-width="1"/>
<line x1="708.05" y1="512.4" x2="708.05" y2="514.9" stroke="#cfdaea" stroke-width="1"/>
<text transform="translate(426.60,516.10) rotate(-90)" x="0" y="0" font-size="5.8" fill="#2a2a2a" class="l" text-anchor="end" textLength="32" lengthAdjust="spacingAndGlyphs">2013/06/26</text>
<text transform="translate(437.05,516.10) rotate(-90)" x="0" y="0" font-size="5.8" fill="#2a2a2a" class="l" text-anchor="end" textLength="32" lengthAdjust="spacingAndGlyphs">2013/09/26</text>
<text transform="translate(447.50,516.10) rotate(-90)" x="0" y="0" font-size="5.8" fill="#2a2a2a" class="l" text-anchor="end" textLength="32" lengthAdjust="spacingAndGlyphs">2013/12/26</text>
<text transform="translate(457.95,516.10) rotate(-90)" x="0" y="0" font-size="5.8" fill="#2a2a2a" class="l" text-anchor="end" textLength="32" lengthAdjust="spacingAndGlyphs">2014/03/26</text>
<text transform="translate(468.40,516.10) rotate(-90)" x="0" y="0" font-size="5.8" fill="#2a2a2a" class="l" text-anchor="end" textLength="32" lengthAdjust="spacingAndGlyphs">2014/06/26</text>
<text transform="translate(478.85,516.10) rotate(-90)" x="0" y="0" font-size="5.8" fill="#2a2a2a" class="l" text-anchor="end" textLength="32" lengthAdjust="spacingAndGlyphs">2014/09/26</text>
<text transform="translate(489.30,516.10) rotate(-90)" x="0" y="0" font-size="5.8" fill="#2a2a2a" class="l" text-anchor="end" textLength="32" lengthAdjust="spacingAndGlyphs">2014/12/26</text>
<text transform="translate(499.75,516.10) rotate(-90)" x="0" y="0" font-size="5.8" fill="#2a2a2a" class="l" text-anchor="end" textLength="32" lengthAdjust="spacingAndGlyphs">2015/03/26</text>
<text transform="translate(510.20,516.10) rotate(-90)" x="0" y="0" font-size="5.8" fill="#2a2a2a" class="l" text-anchor="end" textLength="32" lengthAdjust="spacingAndGlyphs">2015/06/26</text>
<text transform="translate(520.65,516.10) rotate(-90)" x="0" y="0" font-size="5.8" fill="#2a2a2a" class="l" text-anchor="end" textLength="32" lengthAdjust="spacingAndGlyphs">2015/09/26</text>
<text transform="translate(531.10,516.10) rotate(-90)" x="0" y="0" font-size="5.8" fill="#2a2a2a" class="l" text-anchor="end" textLength="32" lengthAdjust="spacingAndGlyphs">2015/12/26</text>
<text transform="translate(541.55,516.10) rotate(-90)" x="0" y="0" font-size="5.8" fill="#2a2a2a" class="l" text-anchor="end" textLength="32" lengthAdjust="spacingAndGlyphs">2016/03/26</text>
<text transform="translate(552.00,516.10) rotate(-90)" x="0" y="0" font-size="5.8" fill="#2a2a2a" class="l" text-anchor="end" textLength="32" lengthAdjust="spacingAndGlyphs">2016/06/26</text>
<text transform="translate(562.45,516.10) rotate(-90)" x="0" y="0" font-size="5.8" fill="#2a2a2a" class="l" text-anchor="end" textLength="32" lengthAdjust="spacingAndGlyphs">2016/09/26</text>
<text transform="translate(572.90,516.10) rotate(-90)" x="0" y="0" font-size="5.8" fill="#2a2a2a" class="l" text-anchor="end" textLength="32" lengthAdjust="spacingAndGlyphs">2016/12/26</text>
<text transform="translate(583.35,516.10) rotate(-90)" x="0" y="0" font-size="5.8" fill="#2a2a2a" class="l" text-anchor="end" textLength="32" lengthAdjust="spacingAndGlyphs">2017/03/26</text>
<text transform="translate(593.80,516.10) rotate(-90)" x="0" y="0" font-size="5.8" fill="#2a2a2a" class="l" text-anchor="end" textLength="32" lengthAdjust="spacingAndGlyphs">2017/06/26</text>
<text transform="translate(604.25,516.10) rotate(-90)" x="0" y="0" font-size="5.8" fill="#2a2a2a" class="l" text-anchor="end" textLength="32" lengthAdjust="spacingAndGlyphs">2017/09/26</text>
<text transform="translate(614.70,516.10) rotate(-90)" x="0" y="0" font-size="5.8" fill="#2a2a2a" class="l" text-anchor="end" textLength="32" lengthAdjust="spacingAndGlyphs">2017/12/26</text>
<text transform="translate(625.15,516.10) rotate(-90)" x="0" y="0" font-size="5.8" fill="#2a2a2a" class="l" text-anchor="end" textLength="32" lengthAdjust="spacingAndGlyphs">2018/03/26</text>
<text transform="translate(635.60,516.10) rotate(-90)" x="0" y="0" font-size="5.8" fill="#2a2a2a" class="l" text-anchor="end" textLength="32" lengthAdjust="spacingAndGlyphs">2018/06/26</text>
<text transform="translate(646.05,516.10) rotate(-90)" x="0" y="0" font-size="5.8" fill="#2a2a2a" class="l" text-anchor="end" textLength="32" lengthAdjust="spacingAndGlyphs">2018/09/26</text>
<text transform="translate(656.50,516.10) rotate(-90)" x="0" y="0" font-size="5.8" fill="#2a2a2a" class="l" text-anchor="end" textLength="32" lengthAdjust="spacingAndGlyphs">2018/12/26</text>
<text transform="translate(666.95,516.10) rotate(-90)" x="0" y="0" font-size="5.8" fill="#2a2a2a" class="l" text-anchor="end" textLength="32" lengthAdjust="spacingAndGlyphs">2019/03/26</text>
<text transform="translate(677.40,516.10) rotate(-90)" x="0" y="0" font-size="5.8" fill="#2a2a2a" class="l" text-anchor="end" textLength="32" lengthAdjust="spacingAndGlyphs">2019/06/26</text>
<text transform="translate(687.85,516.10) rotate(-90)" x="0" y="0" font-size="5.8" fill="#2a2a2a" class="l" text-anchor="end" textLength="32" lengthAdjust="spacingAndGlyphs">2019/09/26</text>
<text transform="translate(698.30,516.10) rotate(-90)" x="0" y="0" font-size="5.8" fill="#2a2a2a" class="l" text-anchor="end" textLength="32" lengthAdjust="spacingAndGlyphs">2019/12/26</text>
<text transform="translate(708.75,516.10) rotate(-90)" x="0" y="0" font-size="5.8" fill="#2a2a2a" class="l" text-anchor="end" textLength="32" lengthAdjust="spacingAndGlyphs">2020/03/26</text>
<polyline points="425.8,503.6 432.7,502.7 439.0,503.9 446.6,504.8 452.9,506.5 458.0,508.1 460.5,509.6 464.3,508.4 470.6,509.0 478.1,507.4 484.4,509.0 490.8,510.3 498.3,510.9 505.0,508.5 510.1,507.2 515.1,502.5 518.9,501.5 525.2,504.0 531.5,503.8 536.6,502.2 540.4,498.4 545.4,492.4 550.4,489.5 554.2,490.4 559.3,488.3 565.6,492.1 570.6,492.7 575.7,491.2 580.7,490.6 585.8,491.2 589.5,493.3 593.3,496.5 598.8,497.1 610.1,499.6 620.2,499.6 624.0,503.4 631.6,506.8 636.6,507.2 644.2,505.6 651.7,506.6 659.3,509.1 663.7,507.8 668.1,504.0 673.9,500.2 677.8,496.8 681.8,493.3 683.7,484.5 686.7,475.7 689.1,468.8 690.1,456.1 692.1,448.2 695.5,445.8 699.4,443.8 703.3,440.4 705.3,438.4 706.8,432.5 708.7,429.1" fill="none" stroke="#8fcfc3" stroke-width="1.0" stroke-linejoin="round" stroke-linecap="round"/>
<polyline points="425.8,502.7 429.0,502.1 431.5,499.5 435.3,498.3 440.3,498.9 444.1,498.3 447.2,498.9 450.4,503.6 454.2,505.2 457.3,507.7 460.5,509.6 462.4,504.6 464.9,504.3 468.7,506.5 471.8,503.9 475.6,503.3 480.7,503.3 485.7,502.7 490.8,503.9 494.5,505.8 498.3,506.8 502.1,504.6 505.0,502.8 509.5,500.3 512.6,495.9 516.4,492.7 521.4,492.1 525.2,491.2 527.7,492.4 530.9,491.7 533.4,489.2 537.8,487.0 540.4,483.9 542.9,479.5 546.7,476.9 549.2,476.3 551.1,479.5 553.0,484.5 555.5,485.4 559.3,484.9 563.1,485.1 565.6,487.0 569.4,485.8 573.1,482.6 575.7,478.8 578.2,480.1 582.0,483.9 585.8,485.8 588.3,489.5 590.8,493.3 593.9,492.4 597.5,492.7 600.0,490.2 602.6,489.9 606.3,490.8 610.1,491.4 613.3,489.5 617.1,491.4 619.6,494.6 621.5,497.1 624.6,503.8 627.2,504.0 630.9,503.8 632.8,501.5 635.4,500.9 637.9,498.8 640.4,495.2 642.9,494.3 645.4,493.7 649.2,495.2 653.0,496.2 656.8,496.9 659.9,500.9 663.7,498.0 665.6,493.3 668.1,492.4 671.3,492.7 673.9,493.8 676.9,489.4 678.8,487.5 681.3,484.0 682.7,473.7 684.7,465.9 687.2,463.4 688.6,457.1 689.6,446.3 691.4,428.6 693.5,438.4 694.5,447.7 696.0,443.8 698.4,443.3 699.9,439.9 702.4,438.4 704.3,436.5 705.8,437.5 707.7,439.9 708.7,443.3" fill="none" stroke="#000" stroke-width="1.3" stroke-linejoin="round" stroke-linecap="round"/>
<line x1="494.1" y1="558.9" x2="506.8" y2="558.9" stroke="#000" stroke-width="1.4"/>
<text x="507.50" y="558.90" font-size="6.3" fill="#2a2a2a" class="c" textLength="61.30" lengthAdjust="spacingAndGlyphs">全国大中城市:猪粮比价</text>
<line x1="580.2" y1="558.9" x2="592.3" y2="558.9" stroke="#8fcfc3" stroke-width="1.2"/>
<text x="592.50" y="558.90" font-size="6.3" fill="#2a2a2a" class="c" textLength="50.60" lengthAdjust="spacingAndGlyphs">价格:二元能繁母猪</text>
<text x="120.50" y="651.60" font-size="10" fill="#595959" class="c" font-weight="700" textLength="202.90" lengthAdjust="spacingAndGlyphs">猪粮比和生猪存栏关系（理论上领先4个月）</text>
<line x1="120.5" y1="657.2" x2="319.4" y2="657.2" stroke="#8c8c8c" stroke-width="1.2"/>
<text x="76.10" y="669.10" font-size="6.4" fill="#2a2a2a" class="l" text-anchor="end" textLength="6.50" lengthAdjust="spacingAndGlyphs">22</text>
<text x="76.10" y="679.21" font-size="6.4" fill="#2a2a2a" class="l" text-anchor="end" textLength="6.50" lengthAdjust="spacingAndGlyphs">20</text>
<text x="76.10" y="689.32" font-size="6.4" fill="#2a2a2a" class="l" text-anchor="end" textLength="6.50" lengthAdjust="spacingAndGlyphs">18</text>
<text x="76.10" y="699.43" font-size="6.4" fill="#2a2a2a" class="l" text-anchor="end" textLength="6.50" lengthAdjust="spacingAndGlyphs">16</text>
<text x="76.10" y="709.54" font-size="6.4" fill="#2a2a2a" class="l" text-anchor="end" textLength="6.50" lengthAdjust="spacingAndGlyphs">14</text>
<text x="76.10" y="719.65" font-size="6.4" fill="#2a2a2a" class="l" text-anchor="end" textLength="6.50" lengthAdjust="spacingAndGlyphs">12</text>
<text x="76.10" y="729.76" font-size="6.4" fill="#2a2a2a" class="l" text-anchor="end" textLength="6.50" lengthAdjust="spacingAndGlyphs">10</text>
<text x="76.10" y="739.87" font-size="6.4" fill="#2a2a2a" class="l" text-anchor="end" textLength="3.25" lengthAdjust="spacingAndGlyphs">8</text>
<text x="76.10" y="749.98" font-size="6.4" fill="#2a2a2a" class="l" text-anchor="end" textLength="3.25" lengthAdjust="spacingAndGlyphs">6</text>
<text x="76.10" y="760.09" font-size="6.4" fill="#2a2a2a" class="l" text-anchor="end" textLength="3.25" lengthAdjust="spacingAndGlyphs">4</text>
<g clip-path="url(#clip5)">
<text x="389.20" y="669.10" font-size="6.6" fill="#2a2a2a" class="l" textLength="16.25" lengthAdjust="spacingAndGlyphs">50000</text>
<text x="389.20" y="684.27" font-size="6.6" fill="#2a2a2a" class="l" textLength="16.25" lengthAdjust="spacingAndGlyphs">45000</text>
<text x="389.20" y="699.44" font-size="6.6" fill="#2a2a2a" class="l" textLength="16.25" lengthAdjust="spacingAndGlyphs">40000</text>
<text x="389.20" y="714.61" font-size="6.6" fill="#2a2a2a" class="l" textLength="16.25" lengthAdjust="spacingAndGlyphs">35000</text>
<text x="389.20" y="729.78" font-size="6.6" fill="#2a2a2a" class="l" textLength="16.25" lengthAdjust="spacingAndGlyphs">30000</text>
<text x="389.20" y="744.95" font-size="6.6" fill="#2a2a2a" class="l" textLength="16.25" lengthAdjust="spacingAndGlyphs">25000</text>
<text x="389.20" y="760.12" font-size="6.6" fill="#2a2a2a" class="l" textLength="16.25" lengthAdjust="spacingAndGlyphs">20000</text>
</g>
<line x1="81.4" y1="759.6" x2="382.6" y2="759.6" stroke="#cfdaea" stroke-width="1"/>
<line x1="81.40" y1="759.6" x2="81.40" y2="762.1" stroke="#cfdaea" stroke-width="1"/>
<line x1="91.64" y1="759.6" x2="91.64" y2="762.1" stroke="#cfdaea" stroke-width="1"/>
<line x1="101.88" y1="759.6" x2="101.88" y2="762.1" stroke="#cfdaea" stroke-width="1"/>
<line x1="112.12" y1="759.6" x2="112.12" y2="762.1" stroke="#cfdaea" stroke-width="1"/>
<line x1="122.36" y1="759.6" x2="122.36" y2="762.1" stroke="#cfdaea" stroke-width="1"/>
<line x1="132.60" y1="759.6" x2="132.60" y2="762.1" stroke="#cfdaea" stroke-width="1"/>
<line x1="142.84" y1="759.6" x2="142.84" y2="762.1" stroke="#cfdaea" stroke-width="1"/>
<line x1="153.08" y1="759.6" x2="153.08" y2="762.1" stroke="#cfdaea" stroke-width="1"/>
<line x1="163.32" y1="759.6" x2="163.32" y2="762.1" stroke="#cfdaea" stroke-width="1"/>
<line x1="173.56" y1="759.6" x2="173.56" y2="762.1" stroke="#cfdaea" stroke-width="1"/>
<line x1="183.80" y1="759.6" x2="183.80" y2="762.1" stroke="#cfdaea" stroke-width="1"/>
<line x1="194.04" y1="759.6" x2="194.04" y2="762.1" stroke="#cfdaea" stroke-width="1"/>
<line x1="204.28" y1="759.6" x2="204.28" y2="762.1" stroke="#cfdaea" stroke-width="1"/>
<line x1="214.52" y1="759.6" x2="214.52" y2="762.1" stroke="#cfdaea" stroke-width="1"/>
<line x1="224.76" y1="759.6" x2="224.76" y2="762.1" stroke="#cfdaea" stroke-width="1"/>
<line x1="235.00" y1="759.6" x2="235.00" y2="762.1" stroke="#cfdaea" stroke-width="1"/>
<line x1="245.24" y1="759.6" x2="245.24" y2="762.1" stroke="#cfdaea" stroke-width="1"/>
<line x1="255.48" y1="759.6" x2="255.48" y2="762.1" stroke="#cfdaea" stroke-width="1"/>
<line x1="265.72" y1="759.6" x2="265.72" y2="762.1" stroke="#cfdaea" stroke-width="1"/>
<line x1="275.96" y1="759.6" x2="275.96" y2="762.1" stroke="#cfdaea" stroke-width="1"/>
<line x1="286.20" y1="759.6" x2="286.20" y2="762.1" stroke="#cfdaea" stroke-width="1"/>
<line x1="296.44" y1="759.6" x2="296.44" y2="762.1" stroke="#cfdaea" stroke-width="1"/>
<line x1="306.68" y1="759.6" x2="306.68" y2="762.1" stroke="#cfdaea" stroke-width="1"/>
<line x1="316.92" y1="759.6" x2="316.92" y2="762.1" stroke="#cfdaea" stroke-width="1"/>
<line x1="327.16" y1="759.6" x2="327.16" y2="762.1" stroke="#cfdaea" stroke-width="1"/>
<line x1="337.40" y1="759.6" x2="337.40" y2="762.1" stroke="#cfdaea" stroke-width="1"/>
<line x1="347.64" y1="759.6" x2="347.64" y2="762.1" stroke="#cfdaea" stroke-width="1"/>
<line x1="357.88" y1="759.6" x2="357.88" y2="762.1" stroke="#cfdaea" stroke-width="1"/>
<line x1="368.12" y1="759.6" x2="368.12" y2="762.1" stroke="#cfdaea" stroke-width="1"/>
<line x1="378.36" y1="759.6" x2="378.36" y2="762.1" stroke="#cfdaea" stroke-width="1"/>
<text transform="translate(82.80,763.80) rotate(-90)" x="0" y="0" font-size="6.1" fill="#2a2a2a" class="l" text-anchor="end" textLength="32.2" lengthAdjust="spacingAndGlyphs">2010/06/16</text>
<text transform="translate(93.04,763.80) rotate(-90)" x="0" y="0" font-size="6.1" fill="#2a2a2a" class="l" text-anchor="end" textLength="32.2" lengthAdjust="spacingAndGlyphs">2010/10/16</text>
<text transform="translate(103.28,763.80) rotate(-90)" x="0" y="0" font-size="6.1" fill="#2a2a2a" class="l" text-anchor="end" textLength="32.2" lengthAdjust="spacingAndGlyphs">2011/02/16</text>
<text transform="translate(113.52,763.80) rotate(-90)" x="0" y="0" font-size="6.1" fill="#2a2a2a" class="l" text-anchor="end" textLength="32.2" lengthAdjust="spacingAndGlyphs">2011/06/16</text>
<text transform="translate(123.76,763.80) rotate(-90)" x="0" y="0" font-size="6.1" fill="#2a2a2a" class="l" text-anchor="end" textLength="32.2" lengthAdjust="spacingAndGlyphs">2011/10/16</text>
<text transform="translate(134.00,763.80) rotate(-90)" x="0" y="0" font-size="6.1" fill="#2a2a2a" class="l" text-anchor="end" textLength="32.2" lengthAdjust="spacingAndGlyphs">2012/02/16</text>
<text transform="translate(144.24,763.80) rotate(-90)" x="0" y="0" font-size="6.1" fill="#2a2a2a" class="l" text-anchor="end" textLength="32.2" lengthAdjust="spacingAndGlyphs">2012/06/16</text>
<text transform="translate(154.48,763.80) rotate(-90)" x="0" y="0" font-size="6.1" fill="#2a2a2a" class="l" text-anchor="end" textLength="32.2" lengthAdjust="spacingAndGlyphs">2012/10/16</text>
<text transform="translate(164.72,763.80) rotate(-90)" x="0" y="0" font-size="6.1" fill="#2a2a2a" class="l" text-anchor="end" textLength="32.2" lengthAdjust="spacingAndGlyphs">2013/02/16</text>
<text transform="translate(174.96,763.80) rotate(-90)" x="0" y="0" font-size="6.1" fill="#2a2a2a" class="l" text-anchor="end" textLength="32.2" lengthAdjust="spacingAndGlyphs">2013/06/16</text>
<text transform="translate(185.20,763.80) rotate(-90)" x="0" y="0" font-size="6.1" fill="#2a2a2a" class="l" text-anchor="end" textLength="32.2" lengthAdjust="spacingAndGlyphs">2013/10/16</text>
<text transform="translate(195.44,763.80) rotate(-90)" x="0" y="0" font-size="6.1" fill="#2a2a2a" class="l" text-anchor="end" textLength="32.2" lengthAdjust="spacingAndGlyphs">2014/02/16</text>
<text transform="translate(205.68,763.80) rotate(-90)" x="0" y="0" font-size="6.1" fill="#2a2a2a" class="l" text-anchor="end" textLength="32.2" lengthAdjust="spacingAndGlyphs">2014/06/16</text>
<text transform="translate(215.92,763.80) rotate(-90)" x="0" y="0" font-size="6.1" fill="#2a2a2a" class="l" text-anchor="end" textLength="32.2" lengthAdjust="spacingAndGlyphs">2014/10/16</text>
<text transform="translate(226.16,763.80) rotate(-90)" x="0" y="0" font-size="6.1" fill="#2a2a2a" class="l" text-anchor="end" textLength="32.2" lengthAdjust="spacingAndGlyphs">2015/02/16</text>
<text transform="translate(236.40,763.80) rotate(-90)" x="0" y="0" font-size="6.1" fill="#2a2a2a" class="l" text-anchor="end" textLength="32.2" lengthAdjust="spacingAndGlyphs">2015/06/16</text>
<text transform="translate(246.64,763.80) rotate(-90)" x="0" y="0" font-size="6.1" fill="#2a2a2a" class="l" text-anchor="end" textLength="32.2" lengthAdjust="spacingAndGlyphs">2015/10/16</text>
<text transform="translate(256.88,763.80) rotate(-90)" x="0" y="0" font-size="6.1" fill="#2a2a2a" class="l" text-anchor="end" textLength="32.2" lengthAdjust="spacingAndGlyphs">2016/02/16</text>
<text transform="translate(267.12,763.80) rotate(-90)" x="0" y="0" font-size="6.1" fill="#2a2a2a" class="l" text-anchor="end" textLength="32.2" lengthAdjust="spacingAndGlyphs">2016/06/16</text>
<text transform="translate(277.36,763.80) rotate(-90)" x="0" y="0" font-size="6.1" fill="#2a2a2a" class="l" text-anchor="end" textLength="32.2" lengthAdjust="spacingAndGlyphs">2016/10/16</text>
<text transform="translate(287.60,763.80) rotate(-90)" x="0" y="0" font-size="6.1" fill="#2a2a2a" class="l" text-anchor="end" textLength="32.2" lengthAdjust="spacingAndGlyphs">2017/02/16</text>
<text transform="translate(297.84,763.80) rotate(-90)" x="0" y="0" font-size="6.1" fill="#2a2a2a" class="l" text-anchor="end" textLength="32.2" lengthAdjust="spacingAndGlyphs">2017/06/16</text>
<text transform="translate(308.08,763.80) rotate(-90)" x="0" y="0" font-size="6.1" fill="#2a2a2a" class="l" text-anchor="end" textLength="32.2" lengthAdjust="spacingAndGlyphs">2017/10/16</text>
<text transform="translate(318.32,763.80) rotate(-90)" x="0" y="0" font-size="6.1" fill="#2a2a2a" class="l" text-anchor="end" textLength="32.2" lengthAdjust="spacingAndGlyphs">2018/02/16</text>
<text transform="translate(328.56,763.80) rotate(-90)" x="0" y="0" font-size="6.1" fill="#2a2a2a" class="l" text-anchor="end" textLength="32.2" lengthAdjust="spacingAndGlyphs">2018/06/16</text>
<text transform="translate(338.80,763.80) rotate(-90)" x="0" y="0" font-size="6.1" fill="#2a2a2a" class="l" text-anchor="end" textLength="32.2" lengthAdjust="spacingAndGlyphs">2018/10/16</text>
<text transform="translate(349.04,763.80) rotate(-90)" x="0" y="0" font-size="6.1" fill="#2a2a2a" class="l" text-anchor="end" textLength="32.2" lengthAdjust="spacingAndGlyphs">2019/02/16</text>
<text transform="translate(359.28,763.80) rotate(-90)" x="0" y="0" font-size="6.1" fill="#2a2a2a" class="l" text-anchor="end" textLength="32.2" lengthAdjust="spacingAndGlyphs">2019/06/16</text>
<text transform="translate(369.52,763.80) rotate(-90)" x="0" y="0" font-size="6.1" fill="#2a2a2a" class="l" text-anchor="end" textLength="32.2" lengthAdjust="spacingAndGlyphs">2019/10/16</text>
<text transform="translate(379.76,763.80) rotate(-90)" x="0" y="0" font-size="6.1" fill="#2a2a2a" class="l" text-anchor="end" textLength="32.2" lengthAdjust="spacingAndGlyphs">2020/02/16</text>
<polyline points="82.1,755.2 83.3,753.3 85.2,748.3 89.0,748.3 92.8,746.8 95.9,745.5 100.4,746.1 103.5,744.5 105.4,743.2 109.8,743.5 114.2,736.0 117.4,738.2 120.5,738.2 123.1,740.1 125.6,743.9 128.7,742.6 131.2,742.0 134.4,744.5 137.6,748.9 142.0,750.5 147.0,750.2 152.1,748.9 155.0,748.2 157.0,747.7 161.6,743.5 164.1,745.7 166.1,750.8 168.1,752.3 171.1,752.6 173.2,749.8 176.7,749.3 178.7,746.9 181.2,745.7 185.3,746.2 189.3,745.5 191.3,747.2 192.8,750.8 195.4,752.0 197.9,754.3 200.2,755.8 201.4,751.8 203.4,751.8 206.5,753.3 209.5,750.8 212.5,750.8 215.5,749.8 219.6,749.8 223.6,751.3 227.2,753.8 230.7,752.0 233.0,749.8 236.6,747.7 240.1,741.2 243.1,739.7 246.6,739.0 248.7,739.7 251.7,739.4 254.2,736.1 257.2,734.6 259.3,729.6 262.3,725.5 265.3,724.5 267.3,731.6 269.9,733.1 272.4,732.1 275.4,732.6 277.4,734.1 280.5,733.1 282.5,729.6 284.5,726.8 286.5,728.6 289.5,731.6 292.6,734.6 295.6,740.7 298.6,739.7 300.6,740.5 302.7,737.7 306.3,737.6 308.8,738.8 311.3,738.8 312.6,736.9 315.8,739.4 318.3,743.2 320.8,752.1 322.7,751.4 325.2,752.1 327.1,748.9 329.6,747.6 332.8,742.6 335.3,741.0 337.8,742.0 340.4,743.2 344.8,744.2 346.7,748.3 348.5,746.4 350.4,741.3 353.0,739.4 356.1,740.7 358.0,740.7 359.9,736.9 362.4,731.9 363.7,723.1 364.9,714.9 366.8,710.4 368.1,700.4 369.4,678.3 370.6,685.2 371.9,695.9 373.1,693.4 375.0,692.2 376.3,688.4 378.8,685.9 380.7,687.7 382.6,692.8" fill="none" stroke="#000" stroke-width="2.2" stroke-linejoin="round" stroke-linecap="round"/>
<polyline points="82.7,687.7 87.7,685.9 91.5,682.1 96.6,682.4 99.1,683.3 102.9,685.2 107.9,683.3 113.0,681.2 118.0,678.7 121.8,676.8 126.2,675.4 129.4,677.0 133.8,680.6 138.2,679.3 142.0,679.5 148.3,679.5 152.7,676.4 155.8,677.0 159.0,679.1 162.1,683.2 165.1,686.2 170.1,684.2 172.7,684.2 178.2,680.9 183.3,678.1 187.8,677.3 189.8,680.1 192.8,686.7 197.4,688.0 202.9,690.2 207.5,689.2 213.5,687.4 217.6,689.2 221.6,693.8 226.1,701.8 229.7,702.3 236.1,703.3 241.1,702.1 246.1,701.3 251.2,703.3 256.7,708.4 262.3,706.6 267.3,705.6 273.4,705.6 279.4,706.2 282.5,707.9 286.0,711.9 292.1,710.4 295.6,711.9 302.7,713.4 310.7,714.2 313.9,716.1 318.3,718.3 321.4,716.7 325.2,718.6 329.6,721.2 333.4,722.0 337.8,720.9 341.0,721.8 344.8,728.7 348.5,735.0 353.0,738.2 357.4,742.0 361.2,750.2 364.3,759.0" fill="none" stroke="#a6dbd0" stroke-width="1.6" stroke-linejoin="round" stroke-linecap="round"/>
<line x1="171.1" y1="806.2" x2="186.2" y2="806.2" stroke="#000" stroke-width="2"/>
<text x="187.00" y="806.20" font-size="6.5" fill="#2a2a2a" class="c" textLength="66.80" lengthAdjust="spacingAndGlyphs">全国大中城市:猪粮比价</text>
<line x1="263.9" y1="806.2" x2="278" y2="806.2" stroke="#a6dbd0" stroke-width="2"/>
<text x="278.50" y="806.20" font-size="6.5" fill="#2a2a2a" class="c" textLength="26.80" lengthAdjust="spacingAndGlyphs">生猪存栏</text>
<text x="475.00" y="653.60" font-size="11.7" fill="#595959" class="c" font-weight="700" textLength="186.70" lengthAdjust="spacingAndGlyphs">自繁自养、外购仔猪：养殖利润对比</text>
<line x1="475" y1="660.2" x2="661.7" y2="660.2" stroke="#8c8c8c" stroke-width="1.2"/>
<text x="427.20" y="674.20" font-size="6.8" fill="#2a2a2a" class="l" text-anchor="end" textLength="14.72" lengthAdjust="spacingAndGlyphs">3500</text>
<text x="427.20" y="682.79" font-size="6.8" fill="#2a2a2a" class="l" text-anchor="end" textLength="14.72" lengthAdjust="spacingAndGlyphs">3000</text>
<text x="427.20" y="691.38" font-size="6.8" fill="#2a2a2a" class="l" text-anchor="end" textLength="14.72" lengthAdjust="spacingAndGlyphs">2500</text>
<text x="427.20" y="699.97" font-size="6.8" fill="#2a2a2a" class="l" text-anchor="end" textLength="14.72" lengthAdjust="spacingAndGlyphs">2000</text>
<text x="427.20" y="708.56" font-size="6.8" fill="#2a2a2a" class="l" text-anchor="end" textLength="14.72" lengthAdjust="spacingAndGlyphs">1500</text>
<text x="427.20" y="717.15" font-size="6.8" fill="#2a2a2a" class="l" text-anchor="end" textLength="14.72" lengthAdjust="spacingAndGlyphs">1000</text>
<text x="427.20" y="725.74" font-size="6.8" fill="#2a2a2a" class="l" text-anchor="end" textLength="11.04" lengthAdjust="spacingAndGlyphs">500</text>
<text x="427.20" y="734.33" font-size="6.8" fill="#2a2a2a" class="l" text-anchor="end" textLength="3.68" lengthAdjust="spacingAndGlyphs">0</text>
<text x="427.20" y="742.92" font-size="6.8" fill="#2a2a2a" class="l" text-anchor="end" textLength="13.43" lengthAdjust="spacingAndGlyphs">-500</text>
<text x="427.20" y="751.51" font-size="6.8" fill="#2a2a2a" class="l" text-anchor="end" textLength="17.11" lengthAdjust="spacingAndGlyphs">-1000</text>
<line x1="433.4" y1="733.8" x2="721.7" y2="733.8" stroke="#cfdaea" stroke-width="1"/>
<line x1="434.00" y1="733.8" x2="434.00" y2="736.3" stroke="#cfdaea" stroke-width="1"/>
<line x1="447.34" y1="733.8" x2="447.34" y2="736.3" stroke="#cfdaea" stroke-width="1"/>
<line x1="460.68" y1="733.8" x2="460.68" y2="736.3" stroke="#cfdaea" stroke-width="1"/>
<line x1="474.02" y1="733.8" x2="474.02" y2="736.3" stroke="#cfdaea" stroke-width="1"/>
<line x1="487.36" y1="733.8" x2="487.36" y2="736.3" stroke="#cfdaea" stroke-width="1"/>
<line x1="500.70" y1="733.8" x2="500.70" y2="736.3" stroke="#cfdaea" stroke-width="1"/>
<line x1="514.04" y1="733.8" x2="514.04" y2="736.3" stroke="#cfdaea" stroke-width="1"/>
<line x1="527.38" y1="733.8" x2="527.38" y2="736.3" stroke="#cfdaea" stroke-width="1"/>
<line x1="540.72" y1="733.8" x2="540.72" y2="736.3" stroke="#cfdaea" stroke-width="1"/>
<line x1="554.06" y1="733.8" x2="554.06" y2="736.3" stroke="#cfdaea" stroke-width="1"/>
<line x1="567.40" y1="733.8" x2="567.40" y2="736.3" stroke="#cfdaea" stroke-width="1"/>
<line x1="580.74" y1="733.8" x2="580.74" y2="736.3" stroke="#cfdaea" stroke-width="1"/>
<line x1="594.08" y1="733.8" x2="594.08" y2="736.3" stroke="#cfdaea" stroke-width="1"/>
<line x1="607.42" y1="733.8" x2="607.42" y2="736.3" stroke="#cfdaea" stroke-width="1"/>
<line x1="620.76" y1="733.8" x2="620.76" y2="736.3" stroke="#cfdaea" stroke-width="1"/>
<line x1="634.10" y1="733.8" x2="634.10" y2="736.3" stroke="#cfdaea" stroke-width="1"/>
<line x1="647.44" y1="733.8" x2="647.44" y2="736.3" stroke="#cfdaea" stroke-width="1"/>
<line x1="660.78" y1="733.8" x2="660.78" y2="736.3" stroke="#cfdaea" stroke-width="1"/>
<line x1="674.12" y1="733.8" x2="674.12" y2="736.3" stroke="#cfdaea" stroke-width="1"/>
<line x1="687.46" y1="733.8" x2="687.46" y2="736.3" stroke="#cfdaea" stroke-width="1"/>
<line x1="700.80" y1="733.8" x2="700.80" y2="736.3" stroke="#cfdaea" stroke-width="1"/>
<line x1="714.14" y1="733.8" x2="714.14" y2="736.3" stroke="#cfdaea" stroke-width="1"/>
<text transform="translate(435.00,756.10) rotate(-90)" x="0" y="0" font-size="6.3" fill="#2a2a2a" class="l" text-anchor="end" textLength="34.9" lengthAdjust="spacingAndGlyphs">2013/01/18</text>
<text transform="translate(448.34,756.10) rotate(-90)" x="0" y="0" font-size="6.3" fill="#2a2a2a" class="l" text-anchor="end" textLength="34.9" lengthAdjust="spacingAndGlyphs">2013/05/18</text>
<text transform="translate(461.68,756.10) rotate(-90)" x="0" y="0" font-size="6.3" fill="#2a2a2a" class="l" text-anchor="end" textLength="34.9" lengthAdjust="spacingAndGlyphs">2013/09/18</text>
<text transform="translate(475.02,756.10) rotate(-90)" x="0" y="0" font-size="6.3" fill="#2a2a2a" class="l" text-anchor="end" textLength="34.9" lengthAdjust="spacingAndGlyphs">2014/01/18</text>
<text transform="translate(488.36,756.10) rotate(-90)" x="0" y="0" font-size="6.3" fill="#2a2a2a" class="l" text-anchor="end" textLength="34.9" lengthAdjust="spacingAndGlyphs">2014/05/18</text>
<text transform="translate(501.70,756.10) rotate(-90)" x="0" y="0" font-size="6.3" fill="#2a2a2a" class="l" text-anchor="end" textLength="34.9" lengthAdjust="spacingAndGlyphs">2014/09/18</text>
<text transform="translate(515.04,756.10) rotate(-90)" x="0" y="0" font-size="6.3" fill="#2a2a2a" class="l" text-anchor="end" textLength="34.9" lengthAdjust="spacingAndGlyphs">2015/01/18</text>
<text transform="translate(528.38,756.10) rotate(-90)" x="0" y="0" font-size="6.3" fill="#2a2a2a" class="l" text-anchor="end" textLength="34.9" lengthAdjust="spacingAndGlyphs">2015/05/18</text>
<text transform="translate(541.72,756.10) rotate(-90)" x="0" y="0" font-size="6.3" fill="#2a2a2a" class="l" text-anchor="end" textLength="34.9" lengthAdjust="spacingAndGlyphs">2015/09/18</text>
<text transform="translate(555.06,756.10) rotate(-90)" x="0" y="0" font-size="6.3" fill="#2a2a2a" class="l" text-anchor="end" textLength="34.9" lengthAdjust="spacingAndGlyphs">2016/01/18</text>
<text transform="translate(568.40,756.10) rotate(-90)" x="0" y="0" font-size="6.3" fill="#2a2a2a" class="l" text-anchor="end" textLength="34.9" lengthAdjust="spacingAndGlyphs">2016/05/18</text>
<text transform="translate(581.74,756.10) rotate(-90)" x="0" y="0" font-size="6.3" fill="#2a2a2a" class="l" text-anchor="end" textLength="34.9" lengthAdjust="spacingAndGlyphs">2016/09/18</text>
<text transform="translate(595.08,756.10) rotate(-90)" x="0" y="0" font-size="6.3" fill="#2a2a2a" class="l" text-anchor="end" textLength="34.9" lengthAdjust="spacingAndGlyphs">2017/01/18</text>
<text transform="translate(608.42,756.10) rotate(-90)" x="0" y="0" font-size="6.3" fill="#2a2a2a" class="l" text-anchor="end" textLength="34.9" lengthAdjust="spacingAndGlyphs">2017/05/18</text>
<text transform="translate(621.76,756.10) rotate(-90)" x="0" y="0" font-size="6.3" fill="#2a2a2a" class="l" text-anchor="end" textLength="34.9" lengthAdjust="spacingAndGlyphs">2017/09/18</text>
<text transform="translate(635.10,756.10) rotate(-90)" x="0" y="0" font-size="6.3" fill="#2a2a2a" class="l" text-anchor="end" textLength="34.9" lengthAdjust="spacingAndGlyphs">2018/01/18</text>
<text transform="translate(648.44,756.10) rotate(-90)" x="0" y="0" font-size="6.3" fill="#2a2a2a" class="l" text-anchor="end" textLength="34.9" lengthAdjust="spacingAndGlyphs">2018/05/18</text>
<text transform="translate(661.78,756.10) rotate(-90)" x="0" y="0" font-size="6.3" fill="#2a2a2a" class="l" text-anchor="end" textLength="34.9" lengthAdjust="spacingAndGlyphs">2018/09/18</text>
<text transform="translate(675.12,756.10) rotate(-90)" x="0" y="0" font-size="6.3" fill="#2a2a2a" class="l" text-anchor="end" textLength="34.9" lengthAdjust="spacingAndGlyphs">2019/01/18</text>
<text transform="translate(688.46,756.10) rotate(-90)" x="0" y="0" font-size="6.3" fill="#2a2a2a" class="l" text-anchor="end" textLength="34.9" lengthAdjust="spacingAndGlyphs">2019/05/18</text>
<text transform="translate(701.80,756.10) rotate(-90)" x="0" y="0" font-size="6.3" fill="#2a2a2a" class="l" text-anchor="end" textLength="34.9" lengthAdjust="spacingAndGlyphs">2019/09/18</text>
<text transform="translate(715.14,756.10) rotate(-90)" x="0" y="0" font-size="6.3" fill="#2a2a2a" class="l" text-anchor="end" textLength="34.9" lengthAdjust="spacingAndGlyphs">2020/01/18</text>
<polyline points="434.6,728.1 437.8,730.6 441.6,734.4 445.4,736.3 448.5,734.4 451.7,732.9 455.4,731.2 459.2,730.6 464.3,731.2 469.3,730.6 473.1,732.5 475.6,735.7 479.4,737.6 483.8,739.2 487.0,734.4 490.8,735.0 494.5,733.1 498.3,731.6 500.0,731.6 506.1,733.1 513.6,734.6 519.7,736.6 524.2,733.9 530.3,730.6 535.6,725.6 540.9,726.3 546.9,728.6 553.0,724.5 557.5,724.0 562.0,721.8 568.1,719.5 572.6,722.5 576.4,720.0 580.2,721.8 584.7,725.6 589.3,724.0 593.8,722.1 599.9,726.0 604.4,727.1 609.0,731.2 613.5,730.1 615.0,729.9 619.5,728.9 624.1,729.9 628.6,728.9 633.2,728.1 636.2,731.1 640.7,737.2 646.0,738.7 649.8,734.9 655.9,730.4 660.4,728.9 666.5,730.4 671.0,731.1 674.8,735.7 678.6,732.6 681.6,728.1 686.1,728.1 690.7,724.3 694.4,722.0 696.7,711.5 701.3,703.9 703.5,690.3 705.0,681.2 706.6,685.7 708.1,696.3 711.1,694.0 713.4,688.8 716.7,685.4 719.4,688.8 721.7,692.5" fill="none" stroke="#000" stroke-width="2.0" stroke-linejoin="round" stroke-linecap="round"/>
<polyline points="434.6,728.1 441.6,734.4 445.4,736.3 451.7,732.5 458.0,730.0 464.3,731.2 469.3,731.9 473.7,734.4 478.1,736.3 483.8,738.2 487.6,733.1 493.3,733.1 498.3,730.6 500.0,730.9 509.1,733.9 519.7,735.1 525.7,730.1 531.8,729.3 535.6,726.3 540.9,727.1 546.9,730.9 553.0,728.6 557.5,727.1 562.0,724.0 566.6,721.8 569.6,724.8 572.6,727.8 578.7,728.6 583.2,734.6 589.3,730.1 593.8,727.5 599.9,728.6 604.4,730.1 609.0,735.4 615.0,734.6 624.1,732.3 633.2,731.1 636.2,734.2 640.7,737.9 646.0,739.4 649.8,735.7 655.9,731.1 660.4,729.3 666.5,730.8 671.0,731.9 674.8,735.7 679.3,728.9 686.1,726.6 690.7,723.6 695.2,723.6 697.5,712.2 702.0,703.9 704.7,685.7 706.6,690.3 707.6,702.4 710.3,700.1 713.4,700.9 717.1,695.6 719.4,702.4 721.7,712.2" fill="none" stroke="#6fc2b4" stroke-width="2.0" stroke-linejoin="round" stroke-linecap="round"/>
<line x1="475.5" y1="803.5" x2="492.2" y2="803.5" stroke="#000" stroke-width="2"/>
<text x="493.00" y="803.50" font-size="6.6" fill="#2a2a2a" class="c" textLength="76.70" lengthAdjust="spacingAndGlyphs">养殖利润:自繁自养生猪</text>
<line x1="583.1" y1="803.5" x2="600.3" y2="803.5" stroke="#6fc2b4" stroke-width="2"/>
<text x="601.00" y="803.50" font-size="6.6" fill="#2a2a2a" class="c" textLength="61.40" lengthAdjust="spacingAndGlyphs">养殖利润:外购仔猪</text>
<text x="75.10" y="337.00" font-size="10.2" fill="#3a3a3a" class="k" textLength="94.5" lengthAdjust="spacingAndGlyphs">数据来源：<tspan font-weight="300" fill="#444">Wind</tspan> 资讯</text>
<text x="75.10" y="586.00" font-size="10.2" fill="#3a3a3a" class="k" textLength="94.5" lengthAdjust="spacingAndGlyphs">数据来源：<tspan font-weight="300" fill="#444">Wind</tspan> 资讯</text>
<text x="75.10" y="834.00" font-size="10.2" fill="#3a3a3a" class="k" textLength="94.5" lengthAdjust="spacingAndGlyphs">数据来源：<tspan font-weight="300" fill="#444">Wind</tspan> 资讯</text>
<text x="415.10" y="337.00" font-size="10.2" fill="#3a3a3a" class="k" textLength="94.5" lengthAdjust="spacingAndGlyphs">数据来源：<tspan font-weight="300" fill="#444">Wind</tspan> 资讯</text>
<text x="415.10" y="586.00" font-size="10.2" fill="#3a3a3a" class="k" textLength="94.5" lengthAdjust="spacingAndGlyphs">数据来源：<tspan font-weight="300" fill="#444">Wind</tspan> 资讯</text>
<text x="415.10" y="834.00" font-size="10.2" fill="#3a3a3a" class="k" textLength="94.5" lengthAdjust="spacingAndGlyphs">数据来源：<tspan font-weight="300" fill="#444">Wind</tspan> 资讯</text>
<text x="122.50" y="1092.60" font-size="13" fill="#3c4a60" class="c" textLength="186.50" lengthAdjust="spacingAndGlyphs">请务必阅读正文之后的免责声明</text>
</svg>
</body></html>
